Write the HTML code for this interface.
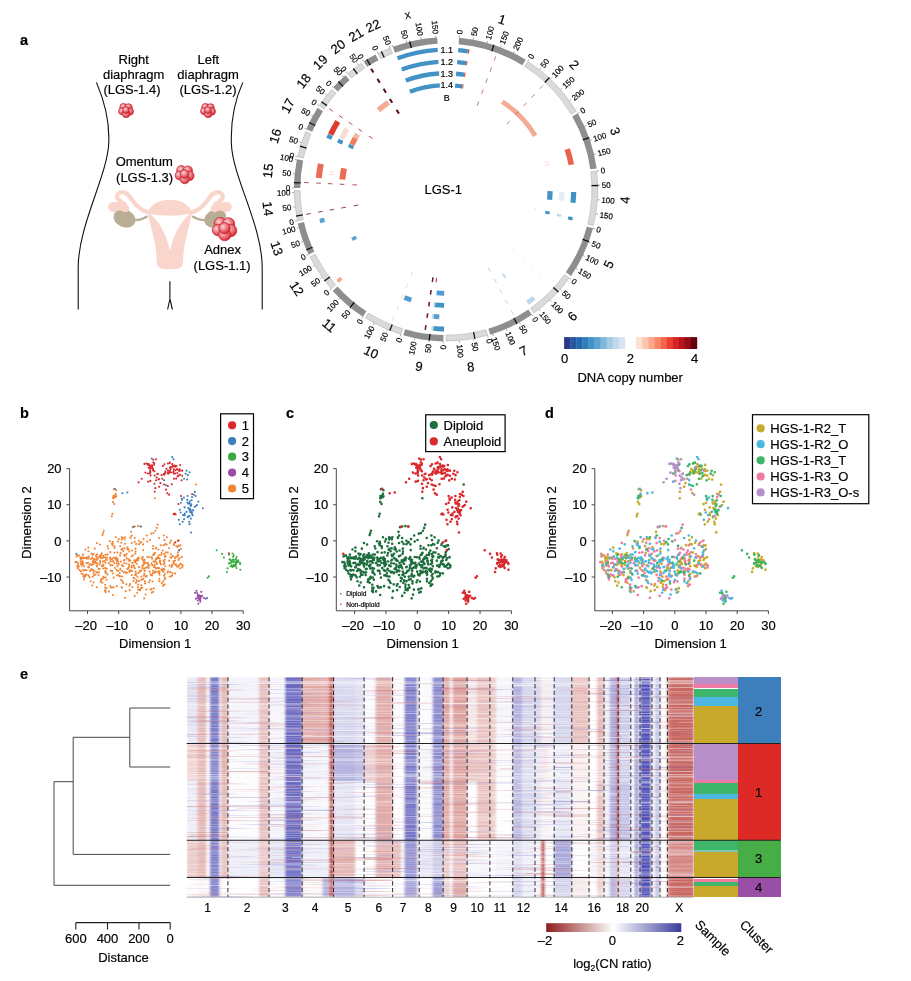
<!DOCTYPE html>
<html><head><meta charset="utf-8"><title>Figure</title>
<style>
html,body{margin:0;padding:0;background:#fff}
svg{display:block}
text{font-family:"Liberation Sans",sans-serif;fill:#000;stroke:#000;stroke-width:0.18px}
</style></head><body>
<svg width="911" height="981" viewBox="0 0 911 981">
<rect width="911" height="981" fill="#fff"/>
<text x="20" y="45" font-size="14.5" font-weight="bold" fill="#000" stroke="none">a</text>
<text x="20" y="418" font-size="14.5" font-weight="bold" fill="#000" stroke="none">b</text>
<text x="286" y="418" font-size="14.5" font-weight="bold" fill="#000" stroke="none">c</text>
<text x="545" y="418" font-size="14.5" font-weight="bold" fill="#000" stroke="none">d</text>
<text x="20" y="679" font-size="14.5" font-weight="bold" fill="#000" stroke="none">e</text>
<defs><radialGradient id="tg" cx="0.38" cy="0.36" r="0.62"><stop offset="0" stop-color="#fbd6d6"/><stop offset="0.5" stop-color="#ee7f87"/><stop offset="1" stop-color="#d62f3a"/></radialGradient></defs>
<text x="133.7" y="63.7" font-size="13" text-anchor="middle">Right</text>
<text x="133.7" y="78.6" font-size="13" text-anchor="middle">diaphragm</text>
<text x="132" y="94.4" font-size="13" text-anchor="middle">(LGS-1.4)</text>
<text x="208.3" y="63.7" font-size="13" text-anchor="middle">Left</text>
<text x="208" y="78.6" font-size="13" text-anchor="middle">diaphragm</text>
<text x="208" y="94.4" font-size="13" text-anchor="middle">(LGS-1.2)</text>
<text x="144.2" y="166.2" font-size="13" text-anchor="middle">Omentum</text>
<text x="144.6" y="181.6" font-size="13" text-anchor="middle">(LGS-1.3)</text>
<text x="222.6" y="253.9" font-size="13" text-anchor="middle">Adnex</text>
<text x="222.1" y="269.5" font-size="13" text-anchor="middle">(LGS-1.1)</text>
<path d="M96.4 82.4 C104 100 109.5 122 108.8 142 C108 175 78 225 78.2 268 L78.2 309.5" fill="none" stroke="#111" stroke-width="1.1"/>
<path d="M242.8 82.4 C235 100 230.5 122 231.4 144 C232.5 177 262.3 225 262.2 268 L262.2 309.5" fill="none" stroke="#111" stroke-width="1.1"/>
<path d="M169.9 281.3 L169.9 299 L167.6 309.5 M169.9 299 L172.4 309.5" fill="none" stroke="#111" stroke-width="1.1"/>
<g><ellipse cx="124.5" cy="218.4" rx="11.3" ry="8.8" transform="rotate(22 124.5 218.4)" fill="#b9ad94"/><path d="M132 219.8 Q140 221 147.5 216.2" fill="none" stroke="#b9ad94" stroke-width="2.2"/><path d="M149.5 212.6 C140 211 134.5 203.5 129.5 196.5 C126.5 192 120.5 190.8 117.8 194.2 C116 196.8 117.2 199.8 120.5 200.8" fill="none" stroke="#f9d5cc" stroke-width="4.2" stroke-linecap="round"/><ellipse cx="113.6" cy="207" rx="5.6" ry="4.9" fill="#f9d5cc"/><ellipse cx="121" cy="205.6" rx="6.2" ry="5.2" fill="#f9d5cc"/><ellipse cx="125.2" cy="208.6" rx="4" ry="3.6" fill="#f9d5cc"/></g>
<g transform="translate(339.8 0) scale(-1 1)"><ellipse cx="124.5" cy="218.4" rx="11.3" ry="8.8" transform="rotate(22 124.5 218.4)" fill="#b9ad94"/><path d="M132 219.8 Q140 221 147.5 216.2" fill="none" stroke="#b9ad94" stroke-width="2.2"/><path d="M149.5 212.6 C140 211 134.5 203.5 129.5 196.5 C126.5 192 120.5 190.8 117.8 194.2 C116 196.8 117.2 199.8 120.5 200.8" fill="none" stroke="#f9d5cc" stroke-width="4.2" stroke-linecap="round"/><ellipse cx="113.6" cy="207" rx="5.6" ry="4.9" fill="#f9d5cc"/><ellipse cx="121" cy="205.6" rx="6.2" ry="5.2" fill="#f9d5cc"/><ellipse cx="125.2" cy="208.6" rx="4" ry="3.6" fill="#f9d5cc"/></g>
<path d="M147.8 212.3 C151 203.5 160 199.7 169.9 199.7 C179.8 199.7 188.8 203.5 192 212.3 C190 224 185.5 238 183.8 250 C183.2 256 183.2 262 182.6 264.5 C182 268 178 269.2 169.9 269.2 C161.8 269.2 157.8 268 157.2 264.5 C156.6 262 156.6 256 156 250 C154.3 238 149.8 224 147.8 212.3Z" fill="#f9d5cc"/>
<path d="M150 214 Q169.9 217.4 189.8 214 C180 222 173 236 170 251.2 C167 236 160 222 150 214Z" fill="#fff"/>
<g><circle cx="123.38" cy="106.99" r="3.59" fill="url(#tg)" stroke="#c21f2b" stroke-width="0.7"/><circle cx="128.48" cy="107.4" r="3.73" fill="url(#tg)" stroke="#c21f2b" stroke-width="0.7"/><circle cx="122" cy="111.13" r="3.45" fill="url(#tg)" stroke="#c21f2b" stroke-width="0.7"/><circle cx="129.73" cy="111.4" r="3.73" fill="url(#tg)" stroke="#c21f2b" stroke-width="0.7"/><circle cx="126.14" cy="113.89" r="3.73" fill="url(#tg)" stroke="#c21f2b" stroke-width="0.7"/><circle cx="126" cy="110.02" r="3.45" fill="url(#tg)" stroke="#c21f2b" stroke-width="0.7"/></g>
<g><circle cx="205.38" cy="106.99" r="3.59" fill="url(#tg)" stroke="#c21f2b" stroke-width="0.7"/><circle cx="210.48" cy="107.4" r="3.73" fill="url(#tg)" stroke="#c21f2b" stroke-width="0.7"/><circle cx="204" cy="111.13" r="3.45" fill="url(#tg)" stroke="#c21f2b" stroke-width="0.7"/><circle cx="211.73" cy="111.4" r="3.73" fill="url(#tg)" stroke="#c21f2b" stroke-width="0.7"/><circle cx="208.14" cy="113.89" r="3.73" fill="url(#tg)" stroke="#c21f2b" stroke-width="0.7"/><circle cx="208" cy="110.02" r="3.45" fill="url(#tg)" stroke="#c21f2b" stroke-width="0.7"/></g>
<g><circle cx="181.26" cy="170.18" r="4.58" fill="url(#tg)" stroke="#c21f2b" stroke-width="0.7"/><circle cx="187.77" cy="170.7" r="4.75" fill="url(#tg)" stroke="#c21f2b" stroke-width="0.7"/><circle cx="179.5" cy="175.46" r="4.4" fill="url(#tg)" stroke="#c21f2b" stroke-width="0.7"/><circle cx="189.35" cy="175.81" r="4.75" fill="url(#tg)" stroke="#c21f2b" stroke-width="0.7"/><circle cx="184.78" cy="178.98" r="4.75" fill="url(#tg)" stroke="#c21f2b" stroke-width="0.7"/><circle cx="184.6" cy="174.05" r="4.4" fill="url(#tg)" stroke="#c21f2b" stroke-width="0.7"/></g>
<g><circle cx="220.17" cy="223.23" r="5.93" fill="url(#tg)" stroke="#c21f2b" stroke-width="0.7"/><circle cx="228.6" cy="223.91" r="6.16" fill="url(#tg)" stroke="#c21f2b" stroke-width="0.7"/><circle cx="217.89" cy="230.07" r="5.7" fill="url(#tg)" stroke="#c21f2b" stroke-width="0.7"/><circle cx="230.66" cy="230.52" r="6.16" fill="url(#tg)" stroke="#c21f2b" stroke-width="0.7"/><circle cx="224.73" cy="234.63" r="6.16" fill="url(#tg)" stroke="#c21f2b" stroke-width="0.7"/><circle cx="224.5" cy="228.24" r="5.7" fill="url(#tg)" stroke="#c21f2b" stroke-width="0.7"/></g>
<g><path d="M459.12 37.77 A152.1 152.1 0 0 1 525.7 59.75 L522.34 65.2 A145.7 145.7 0 0 0 458.57 44.14Z" fill="#8e8e8e"/>
<line x1="491.75" y1="51.18" x2="493.89" y2="44.73" stroke="#111" stroke-width="1.3"/>
<line x1="459.12" y1="37.77" x2="459.3" y2="35.77" stroke="#555" stroke-width="0.5"/><text transform="translate(459.43 34.18) rotate(-85.05)" font-size="8" text-anchor="start" dy="2.8">0</text>
<line x1="473.2" y1="39.65" x2="473.56" y2="37.68" stroke="#555" stroke-width="0.5"/><text transform="translate(473.84 36.11) rotate(-79.7)" font-size="8" text-anchor="start" dy="2.8">50</text>
<line x1="487.04" y1="42.84" x2="487.58" y2="40.91" stroke="#555" stroke-width="0.5"/><text transform="translate(488.01 39.37) rotate(-74.35)" font-size="8" text-anchor="start" dy="2.8">100</text>
<line x1="500.52" y1="47.31" x2="501.24" y2="45.44" stroke="#555" stroke-width="0.5"/><text transform="translate(501.81 43.95) rotate(-69)" font-size="8" text-anchor="start" dy="2.8">150</text>
<line x1="513.52" y1="53.01" x2="514.41" y2="51.22" stroke="#555" stroke-width="0.5"/><text transform="translate(515.12 49.78) rotate(-63.64)" font-size="8" text-anchor="start" dy="2.8">200</text>
<text transform="translate(502.13 19.33) rotate(18.28)" font-size="13" text-anchor="middle" dy="4.68">1</text>
<path d="M527.79 61.42 A151.8 151.8 0 0 1 576.19 111.23 L571.21 114.21 A146 146 0 0 0 524.66 66.3Z" fill="#dadada" stroke="#b4b4b4" stroke-width="0.6"/>
<line x1="544.78" y1="82.47" x2="549.39" y2="77.47" stroke="#111" stroke-width="1.3"/>
<line x1="527.95" y1="61.16" x2="529.02" y2="59.48" stroke="#555" stroke-width="0.5"/><text transform="translate(529.89 58.13) rotate(-57.4)" font-size="8" text-anchor="start" dy="2.8">0</text>
<line x1="539.73" y1="69.51" x2="540.96" y2="67.94" stroke="#555" stroke-width="0.5"/><text transform="translate(541.95 66.68) rotate(-51.96)" font-size="8" text-anchor="start" dy="2.8">50</text>
<line x1="550.67" y1="78.94" x2="552.05" y2="77.49" stroke="#555" stroke-width="0.5"/><text transform="translate(553.15 76.33) rotate(-46.52)" font-size="8" text-anchor="start" dy="2.8">100</text>
<line x1="560.66" y1="89.37" x2="562.17" y2="88.05" stroke="#555" stroke-width="0.5"/><text transform="translate(563.38 87) rotate(-41.07)" font-size="8" text-anchor="start" dy="2.8">150</text>
<line x1="569.63" y1="100.69" x2="571.25" y2="99.53" stroke="#555" stroke-width="0.5"/><text transform="translate(572.55 98.6) rotate(-35.63)" font-size="8" text-anchor="start" dy="2.8">200</text>
<text transform="translate(574.38 64.56) rotate(45.83)" font-size="13" text-anchor="middle" dy="4.68">2</text>
<path d="M577.79 113.36 A152.1 152.1 0 0 1 596.66 168.39 L590.32 169.27 A145.7 145.7 0 0 0 572.24 116.56Z" fill="#8e8e8e"/>
<line x1="582.88" y1="139.98" x2="589.28" y2="137.67" stroke="#111" stroke-width="1.3"/>
<line x1="577.79" y1="113.36" x2="579.52" y2="112.37" stroke="#555" stroke-width="0.5"/><text transform="translate(580.91 111.57) rotate(-29.95)" font-size="8" text-anchor="start" dy="2.8">0</text>
<line x1="584.53" y1="126.51" x2="586.36" y2="125.69" stroke="#555" stroke-width="0.5"/><text transform="translate(587.81 125.02) rotate(-24.38)" font-size="8" text-anchor="start" dy="2.8">50</text>
<line x1="589.97" y1="140.25" x2="591.87" y2="139.6" stroke="#555" stroke-width="0.5"/><text transform="translate(593.38 139.09) rotate(-18.81)" font-size="8" text-anchor="start" dy="2.8">100</text>
<line x1="594.05" y1="154.45" x2="596" y2="153.99" stroke="#555" stroke-width="0.5"/><text transform="translate(597.56 153.63) rotate(-13.25)" font-size="8" text-anchor="start" dy="2.8">150</text>
<text transform="translate(615.32 131.24) rotate(71.07)" font-size="13" text-anchor="middle" dy="4.68">3</text>
<path d="M596.7 171.06 A151.8 151.8 0 0 1 593.42 225.51 L587.79 224.13 A146 146 0 0 0 590.94 171.76Z" fill="#dadada" stroke="#b4b4b4" stroke-width="0.6"/>
<line x1="591.45" y1="185.65" x2="598.25" y2="185.48" stroke="#111" stroke-width="1.3"/>
<line x1="597" y1="171.03" x2="598.98" y2="170.79" stroke="#555" stroke-width="0.5"/><text transform="translate(600.57 170.59) rotate(-6.9)" font-size="8" text-anchor="start" dy="2.8">0</text>
<line x1="598.05" y1="185.37" x2="600.05" y2="185.32" stroke="#555" stroke-width="0.5"/><text transform="translate(601.65 185.28) rotate(-1.48)" font-size="8" text-anchor="start" dy="2.8">50</text>
<line x1="597.74" y1="199.74" x2="599.74" y2="199.88" stroke="#555" stroke-width="0.5"/><text transform="translate(601.33 199.99) rotate(3.94)" font-size="8" text-anchor="start" dy="2.8">100</text>
<line x1="596.08" y1="214.03" x2="598.05" y2="214.35" stroke="#555" stroke-width="0.5"/><text transform="translate(599.63 214.61) rotate(9.36)" font-size="8" text-anchor="start" dy="2.8">150</text>
<text transform="translate(624.68 200.07) rotate(-86.55)" font-size="13" text-anchor="middle" dy="4.68">4</text>
<path d="M593.05 228.15 A152.1 152.1 0 0 1 571.05 275.89 L565.79 272.24 A145.7 145.7 0 0 0 586.87 226.52Z" fill="#8e8e8e"/>
<line x1="582.62" y1="239.35" x2="589" y2="241.69" stroke="#111" stroke-width="1.3"/>
<line x1="593.05" y1="228.15" x2="594.99" y2="228.66" stroke="#555" stroke-width="0.5"/><text transform="translate(596.53 229.07) rotate(14.8)" font-size="8" text-anchor="start" dy="2.8">0</text>
<line x1="588.66" y1="242.06" x2="590.53" y2="242.76" stroke="#555" stroke-width="0.5"/><text transform="translate(592.03 243.31) rotate(20.3)" font-size="8" text-anchor="start" dy="2.8">50</text>
<line x1="582.94" y1="255.49" x2="584.75" y2="256.36" stroke="#555" stroke-width="0.5"/><text transform="translate(586.19 257.05) rotate(25.79)" font-size="8" text-anchor="start" dy="2.8">100</text>
<line x1="575.97" y1="268.3" x2="577.68" y2="269.34" stroke="#555" stroke-width="0.5"/><text transform="translate(579.05 270.17) rotate(31.29)" font-size="8" text-anchor="start" dy="2.8">150</text>
<text transform="translate(608.56 264.24) rotate(-65.25)" font-size="13" text-anchor="middle" dy="4.68">5</text>
<path d="M569.27 277.88 A151.8 151.8 0 0 1 533.93 313.04 L530.58 308.31 A146 146 0 0 0 564.56 274.5Z" fill="#dadada" stroke="#b4b4b4" stroke-width="0.6"/>
<line x1="553.37" y1="287.49" x2="558.39" y2="292.08" stroke="#111" stroke-width="1.3"/>
<line x1="569.52" y1="278.06" x2="571.14" y2="279.22" stroke="#555" stroke-width="0.5"/><text transform="translate(572.44 280.16) rotate(35.7)" font-size="8" text-anchor="start" dy="2.8">0</text>
<line x1="560.4" y1="289.54" x2="561.9" y2="290.86" stroke="#555" stroke-width="0.5"/><text transform="translate(563.1 291.91) rotate(41.23)" font-size="8" text-anchor="start" dy="2.8">50</text>
<line x1="550.21" y1="300.09" x2="551.58" y2="301.55" stroke="#555" stroke-width="0.5"/><text transform="translate(552.68 302.71) rotate(46.75)" font-size="8" text-anchor="start" dy="2.8">100</text>
<line x1="539.06" y1="309.61" x2="540.28" y2="311.19" stroke="#555" stroke-width="0.5"/><text transform="translate(541.26 312.46) rotate(52.28)" font-size="8" text-anchor="start" dy="2.8">150</text>
<text transform="translate(572.24 316.2) rotate(-44.85)" font-size="13" text-anchor="middle" dy="4.68">6</text>
<path d="M531.93 314.8 A152.1 152.1 0 0 1 490.22 334.83 L488.36 328.71 A145.7 145.7 0 0 0 528.32 309.52Z" fill="#8e8e8e"/>
<line x1="513.88" y1="318" x2="517.05" y2="324.01" stroke="#111" stroke-width="1.3"/>
<line x1="531.93" y1="314.8" x2="533.06" y2="316.45" stroke="#555" stroke-width="0.5"/><text transform="translate(533.97 317.77) rotate(55.6)" font-size="8" text-anchor="start" dy="2.8">0</text>
<line x1="519.5" y1="322.46" x2="520.47" y2="324.21" stroke="#555" stroke-width="0.5"/><text transform="translate(521.24 325.61) rotate(61.1)" font-size="8" text-anchor="start" dy="2.8">50</text>
<line x1="506.39" y1="328.9" x2="507.18" y2="330.73" stroke="#555" stroke-width="0.5"/><text transform="translate(507.82 332.2) rotate(66.61)" font-size="8" text-anchor="start" dy="2.8">100</text>
<line x1="492.73" y1="334.05" x2="493.34" y2="335.95" stroke="#555" stroke-width="0.5"/><text transform="translate(493.83 337.47) rotate(72.11)" font-size="8" text-anchor="start" dy="2.8">150</text>
<text transform="translate(523.48 350.66) rotate(-25.65)" font-size="13" text-anchor="middle" dy="4.68">7</text>
<path d="M487.59 335.29 A151.8 151.8 0 0 1 446 341.1 L446 335.3 A146 146 0 0 0 486 329.71Z" fill="#dadada" stroke="#b4b4b4" stroke-width="0.6"/>
<line x1="473.6" y1="332.16" x2="474.89" y2="338.84" stroke="#111" stroke-width="1.3"/>
<line x1="487.67" y1="335.58" x2="488.22" y2="337.5" stroke="#555" stroke-width="0.5"/><text transform="translate(488.66 339.04) rotate(74.1)" font-size="8" text-anchor="start" dy="2.8">0</text>
<line x1="473.6" y1="338.87" x2="473.96" y2="340.84" stroke="#555" stroke-width="0.5"/><text transform="translate(474.25 342.42) rotate(79.55)" font-size="8" text-anchor="start" dy="2.8">50</text>
<line x1="459.28" y1="340.82" x2="459.46" y2="342.81" stroke="#555" stroke-width="0.5"/><text transform="translate(459.6 344.41) rotate(84.99)" font-size="8" text-anchor="start" dy="2.8">100</text>
<text transform="translate(470.76 366.58) rotate(-7.95)" font-size="13" text-anchor="middle" dy="4.68">8</text>
<path d="M443.35 341.38 A152.1 152.1 0 0 1 403.31 335.29 L405.11 329.14 A145.7 145.7 0 0 0 443.46 334.98Z" fill="#8e8e8e"/>
<line x1="429.99" y1="333.92" x2="429.24" y2="340.68" stroke="#111" stroke-width="1.3"/>
<line x1="443.35" y1="341.38" x2="443.31" y2="343.38" stroke="#555" stroke-width="0.5"/><text transform="translate(443.28 344.98) rotate(-89)" font-size="8" text-anchor="end" dy="2.8">0</text>
<line x1="428.98" y1="340.44" x2="428.75" y2="342.43" stroke="#555" stroke-width="0.5"/><text transform="translate(428.58 344.02) rotate(-83.57)" font-size="8" text-anchor="end" dy="2.8">50</text>
<line x1="414.76" y1="338.16" x2="414.35" y2="340.12" stroke="#555" stroke-width="0.5"/><text transform="translate(414.02 341.68) rotate(-78.15)" font-size="8" text-anchor="end" dy="2.8">100</text>
<text transform="translate(419.08 366.26) rotate(8.65)" font-size="13" text-anchor="middle" dy="4.68">9</text>
<path d="M400.86 334.23 A151.8 151.8 0 0 1 365.33 317.89 L368.42 312.98 A146 146 0 0 0 402.58 328.7Z" fill="#dadada" stroke="#b4b4b4" stroke-width="0.6"/>
<line x1="392.22" y1="324.5" x2="389.71" y2="330.82" stroke="#111" stroke-width="1.3"/>
<line x1="400.77" y1="334.52" x2="400.17" y2="336.43" stroke="#555" stroke-width="0.5"/><text transform="translate(399.7 337.96) rotate(-72.7)" font-size="8" text-anchor="end" dy="2.8">0</text>
<line x1="387.15" y1="329.56" x2="386.38" y2="331.4" stroke="#555" stroke-width="0.5"/><text transform="translate(385.76 332.87) rotate(-67.24)" font-size="8" text-anchor="end" dy="2.8">50</text>
<line x1="374.07" y1="323.32" x2="373.13" y2="325.08" stroke="#555" stroke-width="0.5"/><text transform="translate(372.37 326.49) rotate(-61.78)" font-size="8" text-anchor="end" dy="2.8">100</text>
<text transform="translate(371.2 351.92) rotate(24.7)" font-size="13" text-anchor="middle" dy="4.68">10</text>
<path d="M362.94 316.72 A152.1 152.1 0 0 1 332.79 290.88 L337.55 286.6 A145.7 145.7 0 0 0 366.43 311.36Z" fill="#8e8e8e"/>
<line x1="354.3" y1="302.27" x2="350.02" y2="307.55" stroke="#111" stroke-width="1.3"/>
<line x1="362.94" y1="316.72" x2="361.85" y2="318.39" stroke="#555" stroke-width="0.5"/><text transform="translate(360.97 319.73) rotate(-56.9)" font-size="8" text-anchor="end" dy="2.8">0</text>
<line x1="350.99" y1="308.08" x2="349.74" y2="309.64" stroke="#555" stroke-width="0.5"/><text transform="translate(348.74 310.89) rotate(-51.34)" font-size="8" text-anchor="end" dy="2.8">50</text>
<line x1="339.94" y1="298.32" x2="338.55" y2="299.76" stroke="#555" stroke-width="0.5"/><text transform="translate(337.43 300.9) rotate(-45.79)" font-size="8" text-anchor="end" dy="2.8">100</text>
<text transform="translate(329.51 325.21) rotate(40.6)" font-size="13" text-anchor="middle" dy="4.68">11</text>
<path d="M331.26 288.69 A151.8 151.8 0 0 1 310.03 256.8 L315.23 254.22 A146 146 0 0 0 335.65 284.89Z" fill="#dadada" stroke="#b4b4b4" stroke-width="0.6"/>
<line x1="329.84" y1="276.92" x2="324.41" y2="281.01" stroke="#111" stroke-width="1.3"/>
<line x1="331.03" y1="288.89" x2="329.52" y2="290.2" stroke="#555" stroke-width="0.5"/><text transform="translate(328.31 291.24) rotate(-40.9)" font-size="8" text-anchor="end" dy="2.8">0</text>
<line x1="322.16" y1="277.6" x2="320.53" y2="278.76" stroke="#555" stroke-width="0.5"/><text transform="translate(319.23 279.69) rotate(-35.49)" font-size="8" text-anchor="end" dy="2.8">50</text>
<line x1="314.38" y1="265.53" x2="312.65" y2="266.53" stroke="#555" stroke-width="0.5"/><text transform="translate(311.27 267.34) rotate(-30.08)" font-size="8" text-anchor="end" dy="2.8">100</text>
<text transform="translate(296.99 288.49) rotate(56.35)" font-size="13" text-anchor="middle" dy="4.68">12</text>
<path d="M308.6 254.54 A152.1 152.1 0 0 1 297.8 223.52 L304.03 222.08 A145.7 145.7 0 0 0 314.38 251.8Z" fill="#8e8e8e"/>
<line x1="312.54" y1="247.25" x2="306.3" y2="249.96" stroke="#111" stroke-width="1.3"/>
<line x1="308.6" y1="254.54" x2="306.8" y2="255.4" stroke="#555" stroke-width="0.5"/><text transform="translate(305.35 256.09) rotate(-25.4)" font-size="8" text-anchor="end" dy="2.8">0</text>
<line x1="303.08" y1="241.34" x2="301.2" y2="242.03" stroke="#555" stroke-width="0.5"/><text transform="translate(299.7 242.57) rotate(-20.01)" font-size="8" text-anchor="end" dy="2.8">50</text>
<line x1="298.82" y1="227.68" x2="296.89" y2="228.19" stroke="#555" stroke-width="0.5"/><text transform="translate(295.34 228.59) rotate(-14.62)" font-size="8" text-anchor="end" dy="2.8">100</text>
<text transform="translate(276.96 248.17) rotate(70.8)" font-size="13" text-anchor="middle" dy="4.68">13</text>
<path d="M297.52 220.86 A151.8 151.8 0 0 1 294.21 190.62 L300.01 190.57 A146 146 0 0 0 303.19 219.66Z" fill="#dadada" stroke="#b4b4b4" stroke-width="0.6"/>
<line x1="302.76" y1="214.84" x2="296.06" y2="216.03" stroke="#111" stroke-width="1.3"/>
<line x1="297.22" y1="220.92" x2="295.27" y2="221.34" stroke="#555" stroke-width="0.5"/><text transform="translate(293.7 221.67) rotate(-12)" font-size="8" text-anchor="end" dy="2.8">0</text>
<line x1="294.92" y1="206.85" x2="292.93" y2="207.08" stroke="#555" stroke-width="0.5"/><text transform="translate(291.34 207.27) rotate(-6.63)" font-size="8" text-anchor="end" dy="2.8">50</text>
<line x1="293.94" y1="192.62" x2="291.94" y2="192.67" stroke="#555" stroke-width="0.5"/><text transform="translate(290.34 192.7) rotate(-1.25)" font-size="8" text-anchor="end" dy="2.8">100</text>
<text transform="translate(268.06 208.79) rotate(83.75)" font-size="13" text-anchor="middle" dy="4.68">14</text>
<path d="M293.91 187.97 A152.1 152.1 0 0 1 296.9 159.24 L303.17 160.5 A145.7 145.7 0 0 0 300.31 188.03Z" fill="#8e8e8e"/>
<line x1="300.64" y1="182.9" x2="293.85" y2="182.6" stroke="#111" stroke-width="1.3"/>
<line x1="293.91" y1="187.97" x2="291.91" y2="187.96" stroke="#555" stroke-width="0.5"/><text transform="translate(290.31 187.94) rotate(0.5)" font-size="8" text-anchor="end" dy="2.8">0</text>
<line x1="294.68" y1="173.88" x2="292.69" y2="173.68" stroke="#555" stroke-width="0.5"/><text transform="translate(291.1 173.52) rotate(5.82)" font-size="8" text-anchor="end" dy="2.8">50</text>
<line x1="296.76" y1="159.93" x2="294.8" y2="159.54" stroke="#555" stroke-width="0.5"/><text transform="translate(293.23 159.23) rotate(11.13)" font-size="8" text-anchor="end" dy="2.8">100</text>
<text transform="translate(267.96 170.74) rotate(275.95)" font-size="13" text-anchor="middle" dy="4.68">15</text>
<path d="M297.74 156.7 A151.8 151.8 0 0 1 305.55 131.7 L310.92 133.9 A146 146 0 0 0 303.41 157.95Z" fill="#dadada" stroke="#b4b4b4" stroke-width="0.6"/>
<line x1="306.44" y1="148.16" x2="299.92" y2="146.23" stroke="#111" stroke-width="1.3"/>
<line x1="297.45" y1="156.64" x2="295.49" y2="156.21" stroke="#555" stroke-width="0.5"/><text transform="translate(293.93 155.87) rotate(12.4)" font-size="8" text-anchor="end" dy="2.8">0</text>
<line x1="301.26" y1="142.55" x2="299.36" y2="141.94" stroke="#555" stroke-width="0.5"/><text transform="translate(297.84 141.44) rotate(17.9)" font-size="8" text-anchor="end" dy="2.8">50</text>
<text transform="translate(275.14 135.92) rotate(287.35)" font-size="13" text-anchor="middle" dy="4.68">16</text>
<path d="M306.3 129.14 A152.1 152.1 0 0 1 317.58 107.8 L322.98 111.23 A145.7 145.7 0 0 0 312.18 131.67Z" fill="#8e8e8e"/>
<line x1="315.22" y1="125.53" x2="309.11" y2="122.54" stroke="#111" stroke-width="1.3"/>
<line x1="306.3" y1="129.14" x2="304.47" y2="128.35" stroke="#555" stroke-width="0.5"/><text transform="translate(303 127.71) rotate(23.3)" font-size="8" text-anchor="end" dy="2.8">0</text>
<line x1="312.86" y1="115.75" x2="311.11" y2="114.79" stroke="#555" stroke-width="0.5"/><text transform="translate(309.71 114.01) rotate(28.92)" font-size="8" text-anchor="end" dy="2.8">50</text>
<text transform="translate(287.73 105.68) rotate(297.85)" font-size="13" text-anchor="middle" dy="4.68">17</text>
<path d="M319.27 105.74 A151.8 151.8 0 0 1 331.61 89.51 L335.98 93.32 A146 146 0 0 0 324.11 108.93Z" fill="#dadada" stroke="#b4b4b4" stroke-width="0.6"/>
<line x1="326.96" y1="105.64" x2="321.39" y2="101.73" stroke="#111" stroke-width="1.3"/>
<line x1="319.02" y1="105.57" x2="317.35" y2="104.47" stroke="#555" stroke-width="0.5"/><text transform="translate(316.01 103.59) rotate(33.4)" font-size="8" text-anchor="end" dy="2.8">0</text>
<line x1="326.69" y1="94.96" x2="325.13" y2="93.72" stroke="#555" stroke-width="0.5"/><text transform="translate(323.87 92.72) rotate(38.34)" font-size="8" text-anchor="end" dy="2.8">50</text>
<text transform="translate(303.52 80.95) rotate(307.25)" font-size="13" text-anchor="middle" dy="4.68">18</text>
<path d="M333.15 87.33 A152.1 152.1 0 0 1 345.41 75.21 L349.65 80.01 A145.7 145.7 0 0 0 337.89 91.62Z" fill="#8e8e8e"/>
<line x1="343.15" y1="86.38" x2="338.34" y2="81.57" stroke="#111" stroke-width="1.3"/>
<line x1="333.15" y1="87.33" x2="331.66" y2="85.99" stroke="#555" stroke-width="0.5"/><text transform="translate(330.47 84.91) rotate(42.1)" font-size="8" text-anchor="end" dy="2.8">0</text>
<line x1="343.46" y1="76.97" x2="342.11" y2="75.49" stroke="#555" stroke-width="0.5"/><text transform="translate(341.03 74.31) rotate(47.61)" font-size="8" text-anchor="end" dy="2.8">50</text>
<text transform="translate(320.2 61.96) rotate(315.35)" font-size="13" text-anchor="middle" dy="4.68">19</text>
<path d="M347.62 73.7 A151.8 151.8 0 0 1 361.55 63.16 L364.78 67.98 A146 146 0 0 0 351.37 78.12Z" fill="#dadada" stroke="#b4b4b4" stroke-width="0.6"/>
<line x1="357.39" y1="73.9" x2="353.25" y2="68.5" stroke="#111" stroke-width="1.3"/>
<line x1="347.42" y1="73.47" x2="346.12" y2="71.95" stroke="#555" stroke-width="0.5"/><text transform="translate(345.09 70.73) rotate(49.6)" font-size="8" text-anchor="end" dy="2.8">0</text>
<line x1="358.41" y1="64.95" x2="357.26" y2="63.32" stroke="#555" stroke-width="0.5"/><text transform="translate(356.33 62.01) rotate(54.84)" font-size="8" text-anchor="end" dy="2.8">50</text>
<text transform="translate(338.03 46.53) rotate(322.9)" font-size="13" text-anchor="middle" dy="4.68">20</text>
<path d="M363.61 61.45 A152.1 152.1 0 0 1 375.53 54.51 L378.5 60.18 A145.7 145.7 0 0 0 367.07 66.83Z" fill="#8e8e8e"/>
<line x1="370.26" y1="65.07" x2="366.72" y2="59.26" stroke="#111" stroke-width="1.3"/>
<line x1="363.61" y1="61.45" x2="362.52" y2="59.77" stroke="#555" stroke-width="0.5"/><text transform="translate(361.66 58.42) rotate(57.2)" font-size="8" text-anchor="end" dy="2.8">0</text>
<text transform="translate(355.96 34.59) rotate(329.8)" font-size="13" text-anchor="middle" dy="4.68">21</text>
<path d="M378.03 53.57 A151.8 151.8 0 0 1 390.37 48.06 L392.49 53.46 A146 146 0 0 0 380.63 58.75Z" fill="#dadada" stroke="#b4b4b4" stroke-width="0.6"/>
<line x1="384.21" y1="57.57" x2="381.32" y2="51.42" stroke="#111" stroke-width="1.3"/>
<line x1="377.9" y1="53.3" x2="377" y2="51.51" stroke="#555" stroke-width="0.5"/><text transform="translate(376.28 50.08) rotate(63.4)" font-size="8" text-anchor="end" dy="2.8">0</text>
<line x1="390.01" y1="47.88" x2="389.27" y2="46.02" stroke="#555" stroke-width="0.5"/><text transform="translate(388.68 44.53) rotate(68.4)" font-size="8" text-anchor="end" dy="2.8">50</text>
<text transform="translate(373.05 25.84) rotate(335.95)" font-size="13" text-anchor="middle" dy="4.68">22</text>
<path d="M392.73 46.83 A152.1 152.1 0 0 1 437.24 37.45 L437.61 43.84 A145.7 145.7 0 0 0 394.97 52.83Z" fill="#8e8e8e"/>
<line x1="411.35" y1="47.99" x2="409.73" y2="41.38" stroke="#111" stroke-width="1.3"/>
<line x1="392.73" y1="46.83" x2="392.03" y2="44.96" stroke="#555" stroke-width="0.5"/><line x1="406.76" y1="42.35" x2="406.24" y2="40.42" stroke="#555" stroke-width="0.5"/><text transform="translate(405.83 38.87) rotate(75.05)" font-size="8" text-anchor="end" dy="2.8">50</text>
<line x1="421.15" y1="39.24" x2="420.82" y2="37.27" stroke="#555" stroke-width="0.5"/><text transform="translate(420.56 35.69) rotate(80.6)" font-size="8" text-anchor="end" dy="2.8">100</text>
<line x1="435.77" y1="37.54" x2="435.64" y2="35.55" stroke="#555" stroke-width="0.5"/><text transform="translate(435.53 33.95) rotate(86.15)" font-size="8" text-anchor="end" dy="2.8">150</text>
<text transform="translate(407.78 15.45) rotate(347.6)" font-size="9" text-anchor="middle" dy="3.24">X</text>
<path d="M396.79 56.26 A141.85 141.85 0 0 1 437.59 47.7 L437.84 51.99 A137.55 137.55 0 0 0 398.28 60.29Z" fill="#4292c6"/>
<path d="M458.36 47.99 A141.85 141.85 0 0 1 468.19 49.2 L467.52 53.44 A137.55 137.55 0 0 0 457.99 52.27Z" fill="#4292c6"/>
<path d="M468.19 49.2 A141.85 141.85 0 0 1 469.66 49.44 L468.94 53.68 A137.55 137.55 0 0 0 467.52 53.44Z" fill="#e05a4a"/>
<path d="M400.95 67.52 A129.85 129.85 0 0 1 438.3 59.68 L438.55 63.97 A125.55 125.55 0 0 0 402.44 71.55Z" fill="#4292c6"/>
<path d="M457.32 59.94 A129.85 129.85 0 0 1 466.31 61.05 L465.64 65.3 A125.55 125.55 0 0 0 456.94 64.23Z" fill="#4292c6"/>
<path d="M466.31 61.05 A129.85 129.85 0 0 1 467.65 61.27 L466.94 65.51 A125.55 125.55 0 0 0 465.64 65.3Z" fill="#e05a4a"/>
<path d="M405.01 78.49 A118.15 118.15 0 0 1 438.99 71.36 L439.25 75.65 A113.85 113.85 0 0 0 406.5 82.52Z" fill="#4292c6"/>
<path d="M456.3 71.6 A118.15 118.15 0 0 1 464.48 72.6 L463.81 76.85 A113.85 113.85 0 0 0 455.92 75.88Z" fill="#4292c6"/>
<path d="M464.48 72.6 A118.15 118.15 0 0 1 465.7 72.8 L464.99 77.04 A113.85 113.85 0 0 0 463.81 76.85Z" fill="#e05a4a"/>
<path d="M409.14 89.65 A106.25 106.25 0 0 1 439.7 83.24 L439.95 87.53 A101.95 101.95 0 0 0 410.63 93.68Z" fill="#4292c6"/>
<path d="M455.26 83.45 A106.25 106.25 0 0 1 462.62 84.36 L461.95 88.61 A101.95 101.95 0 0 0 454.89 87.74Z" fill="#4292c6"/>
<path d="M462.62 84.36 A106.25 106.25 0 0 1 463.72 84.54 L463 88.78 A101.95 101.95 0 0 0 461.95 88.61Z" fill="#e05a4a"/>
<path d="M503.54 99.68 A106.5 106.5 0 0 1 537.29 134.45 L533.17 136.92 A101.7 101.7 0 0 0 500.94 103.72Z" fill="#f4ab93"/>
<path d="M569.9 148.32 A130.5 130.5 0 0 1 574.06 164.18 L568.56 165.25 A124.9 124.9 0 0 0 564.58 150.08Z" fill="#e8634a"/>
<path d="M548.77 161.38 A106.5 106.5 0 0 1 548.97 162.1 L544.33 163.32 A101.7 101.7 0 0 0 544.14 162.64Z" fill="#f7cdd2"/>
<path d="M549.47 164.08 A106.5 106.5 0 0 1 549.64 164.8 L544.97 165.9 A101.7 101.7 0 0 0 544.81 165.21Z" fill="#f7cdd2"/>
<path d="M552.68 191.16 A106.7 106.7 0 0 1 552.15 200.08 L546.98 199.56 A101.5 101.5 0 0 0 547.48 191.07Z" fill="#4292c6"/>
<path d="M564.57 191.78 A118.6 118.6 0 0 1 564.03 200.87 L558.86 200.37 A113.4 113.4 0 0 0 559.38 191.67Z" fill="#e3ebf5"/>
<path d="M576.27 192.03 A130.3 130.3 0 0 1 575.59 202.92 L570.41 202.38 A125.1 125.1 0 0 0 571.07 191.92Z" fill="#4292c6"/>
<path d="M549.95 211.77 A106.35 106.35 0 0 1 549.32 214.49 L544.95 213.42 A101.85 101.85 0 0 0 545.55 210.82Z" fill="#4292c6"/>
<path d="M561.54 214.49 A118.25 118.25 0 0 1 560.93 217.11 L556.56 216.05 A113.75 113.75 0 0 0 557.14 213.53Z" fill="#c5d9ec"/>
<path d="M572.92 217.2 A129.95 129.95 0 0 1 572.14 220.52 L567.78 219.44 A125.45 125.45 0 0 0 568.52 216.24Z" fill="#4292c6"/>
<path d="M536.8 208.93 A92.9 92.9 0 0 1 536.37 210.83 L533.45 210.13 A89.9 89.9 0 0 0 533.87 208.3Z" fill="#f9e4e6"/>
<path d="M535.43 299.73 A142.1 142.1 0 0 1 528.92 304.7 L526.12 300.8 A137.3 137.3 0 0 0 532.41 296Z" fill="#bdd7ec"/>
<path d="M506.32 277.07 A106.5 106.5 0 0 1 504.47 278.31 L501.84 274.3 A101.7 101.7 0 0 0 503.6 273.11Z" fill="#c8dcef"/>
<path d="M444.02 331.39 A142.1 142.1 0 0 1 433.12 330.82 L433.56 326.03 A137.3 137.3 0 0 0 444.08 326.59Z" fill="#4292c6"/>
<path d="M433.12 330.82 A142.1 142.1 0 0 1 431.15 330.62 L431.65 325.85 A137.3 137.3 0 0 0 433.56 326.03Z" fill="#c5d9ec"/>
<path d="M439.19 319.22 A130.1 130.1 0 0 1 433.3 318.78 L433.77 314 A125.3 125.3 0 0 0 439.44 314.43Z" fill="#5a9fd0"/>
<path d="M433.3 318.78 A130.1 130.1 0 0 1 431.5 318.59 L432.03 313.82 A125.3 125.3 0 0 0 433.77 314Z" fill="#c5d9ec"/>
<path d="M444.14 307.69 A118.4 118.4 0 0 1 434.86 307.17 L435.31 302.4 A113.6 113.6 0 0 0 444.22 302.89Z" fill="#4292c6"/>
<path d="M434.86 307.17 A118.4 118.4 0 0 1 433.21 307.01 L433.73 302.24 A113.6 113.6 0 0 0 435.31 302.4Z" fill="#c5d9ec"/>
<path d="M444.14 295.78 A106.5 106.5 0 0 1 436.35 295.36 L436.78 290.58 A101.7 101.7 0 0 0 444.23 290.98Z" fill="#4f9ad0"/>
<path d="M410.59 302.28 A118.4 118.4 0 0 1 403.57 299.84 L405.29 295.35 A113.6 113.6 0 0 0 412.03 297.7Z" fill="#4f9ad0"/>
<path d="M338.92 282.71 A142.1 142.1 0 0 1 336.51 279.88 L340.21 276.82 A137.3 137.3 0 0 0 342.54 279.56Z" fill="#f4a58a"/>
<path d="M352.94 241.09 A106.5 106.5 0 0 1 351.19 237.82 L355.47 235.63 A101.7 101.7 0 0 0 357.14 238.76Z" fill="#5ba3d3"/>
<path d="M320.39 223.19 A130.1 130.1 0 0 1 319.29 218.79 L323.96 217.7 A125.3 125.3 0 0 0 325.03 221.94Z" fill="#5ba3d3"/>
<path d="M315.82 177.68 A130.7 130.7 0 0 1 317.92 163.24 L323.8 164.44 A124.7 124.7 0 0 0 321.79 178.21Z" fill="#ea6c55"/>
<path d="M339.38 179.22 A107.1 107.1 0 0 1 341.09 167.76 L346.96 168.97 A101.1 101.1 0 0 0 345.35 179.79Z" fill="#ea6c55"/>
<path d="M328.53 174.46 A118.4 118.4 0 0 1 328.64 173.64 L333.4 174.28 A113.6 113.6 0 0 0 333.3 175.06Z" fill="#f9d2c8"/>
<path d="M328.87 172 A118.4 118.4 0 0 1 328.99 171.19 L333.74 171.92 A113.6 113.6 0 0 0 333.62 172.7Z" fill="#f9d2c8"/>
<path d="M326.33 137.76 A130.3 130.3 0 0 1 328.1 133.82 L332.81 136.04 A125.1 125.1 0 0 0 331.1 139.82Z" fill="#4292c6"/>
<path d="M337.07 142.39 A118.6 118.6 0 0 1 338.69 138.8 L343.39 141.02 A113.4 113.4 0 0 0 341.85 144.45Z" fill="#4292c6"/>
<path d="M348 147.1 A106.7 106.7 0 0 1 349.45 143.87 L354.16 146.08 A101.5 101.5 0 0 0 352.78 149.15Z" fill="#4292c6"/>
<path d="M328.11 133.32 A130.5 130.5 0 0 1 335.45 119.95 L340.19 122.93 A124.9 124.9 0 0 0 333.17 135.73Z" fill="#de3b2f"/>
<path d="M339.22 137.68 A118.6 118.6 0 0 1 344.99 127.16 L349.41 129.88 A113.4 113.4 0 0 0 343.9 139.94Z" fill="#fbdcd3"/>
<path d="M349.52 143.49 A106.8 106.8 0 0 1 352.95 136.87 L357.66 139.52 A101.4 101.4 0 0 0 354.4 145.81Z" fill="#ee7a62"/>
<path d="M352.95 136.87 A106.8 106.8 0 0 1 355.33 132.86 L359.91 135.72 A101.4 101.4 0 0 0 357.66 139.52Z" fill="#f6b6a0"/>
<path d="M376.64 108.09 A106.8 106.8 0 0 1 386.9 100.34 L389.89 104.84 A101.4 101.4 0 0 0 380.15 112.19Z" fill="#f4ab93"/>
<line x1="494.12" y1="60.6" x2="495.73" y2="56.29" stroke="#a8596a" stroke-width="0.8"/><line x1="489.92" y1="71.84" x2="491.53" y2="67.53" stroke="#a8596a" stroke-width="0.8"/><line x1="485.82" y1="82.8" x2="487.43" y2="78.49" stroke="#a8596a" stroke-width="0.8"/><line x1="481.65" y1="93.95" x2="483.26" y2="89.64" stroke="#a8596a" stroke-width="0.8"/><line x1="477.2" y1="105.84" x2="478.81" y2="101.53" stroke="#a8596a" stroke-width="0.8"/>
<line x1="539.71" y1="88.81" x2="542.84" y2="85.45" stroke="#b5626c" stroke-width="0.8"/><line x1="531.52" y1="97.59" x2="534.66" y2="94.22" stroke="#b5626c" stroke-width="0.8"/><line x1="523.54" y1="106.15" x2="526.68" y2="102.78" stroke="#b5626c" stroke-width="0.8"/><line x1="515.43" y1="114.85" x2="518.56" y2="111.48" stroke="#b5626c" stroke-width="0.8"/><line x1="506.77" y1="124.14" x2="509.9" y2="120.77" stroke="#b5626c" stroke-width="0.8"/>
<line x1="539.19" y1="273.21" x2="542.61" y2="276.29" stroke="#fbe6e2" stroke-width="0.8"/><line x1="530.5" y1="265.38" x2="533.91" y2="268.46" stroke="#fbe6e2" stroke-width="0.8"/><line x1="521.65" y1="257.42" x2="525.07" y2="260.5" stroke="#fbe6e2" stroke-width="0.8"/><line x1="512.21" y1="248.92" x2="515.63" y2="252" stroke="#fbe6e2" stroke-width="0.8"/>
<line x1="511.14" y1="310.28" x2="513.32" y2="314.33" stroke="#f6b29c" stroke-width="0.8"/><line x1="505.45" y1="299.71" x2="507.63" y2="303.76" stroke="#f6b29c" stroke-width="0.8"/><line x1="499.9" y1="289.41" x2="502.08" y2="293.46" stroke="#f6b29c" stroke-width="0.8"/><line x1="494.26" y1="278.93" x2="496.44" y2="282.98" stroke="#f6b29c" stroke-width="0.8"/><line x1="488.24" y1="267.75" x2="490.42" y2="271.8" stroke="#f6b29c" stroke-width="0.8"/>
<line x1="425.93" y1="325.23" x2="425.26" y2="329.78" stroke="#6b1525" stroke-width="1.5"/><line x1="427.68" y1="313.35" x2="427.01" y2="317.91" stroke="#6b1525" stroke-width="1.5"/><line x1="429.39" y1="301.78" x2="428.72" y2="306.33" stroke="#6b1525" stroke-width="1.5"/><line x1="431.13" y1="290.01" x2="430.46" y2="294.56" stroke="#6b1525" stroke-width="1.5"/><line x1="432.98" y1="277.44" x2="432.31" y2="281.99" stroke="#6b1525" stroke-width="1.5"/>
<line x1="436.53" y1="277.9" x2="436.04" y2="282.47" stroke="#c8484a" stroke-width="1.2"/>
<line x1="394.31" y1="316.61" x2="392.58" y2="320.87" stroke="#f8c8b8" stroke-width="0.8"/><line x1="398.82" y1="305.49" x2="397.09" y2="309.75" stroke="#f8c8b8" stroke-width="0.8"/><line x1="403.22" y1="294.65" x2="401.49" y2="298.91" stroke="#f8c8b8" stroke-width="0.8"/><line x1="407.7" y1="283.62" x2="405.97" y2="287.88" stroke="#f8c8b8" stroke-width="0.8"/><line x1="412.48" y1="271.85" x2="410.75" y2="276.12" stroke="#f8c8b8" stroke-width="0.8"/>
<line x1="310.75" y1="213.51" x2="306.22" y2="214.32" stroke="#93414c" stroke-width="1.0"/><line x1="322.56" y1="211.4" x2="318.03" y2="212.21" stroke="#93414c" stroke-width="1.0"/><line x1="334.08" y1="209.34" x2="329.55" y2="210.15" stroke="#93414c" stroke-width="1.0"/><line x1="345.79" y1="207.24" x2="341.27" y2="208.05" stroke="#93414c" stroke-width="1.0"/><line x1="358.29" y1="205" x2="353.77" y2="205.81" stroke="#93414c" stroke-width="1.0"/>
<line x1="308.76" y1="182.71" x2="304.16" y2="182.49" stroke="#a85560" stroke-width="1.0"/><line x1="320.74" y1="183.28" x2="316.15" y2="183.06" stroke="#a85560" stroke-width="1.0"/><line x1="332.43" y1="183.84" x2="327.84" y2="183.62" stroke="#a85560" stroke-width="1.0"/><line x1="344.32" y1="184.42" x2="339.72" y2="184.2" stroke="#a85560" stroke-width="1.0"/><line x1="357" y1="185.03" x2="352.41" y2="184.8" stroke="#a85560" stroke-width="1.0"/>
<line x1="332.9" y1="111.28" x2="329.11" y2="108.67" stroke="#b5485a" stroke-width="1.0"/><line x1="342.78" y1="118.09" x2="338.99" y2="115.48" stroke="#b5485a" stroke-width="1.0"/><line x1="352.41" y1="124.74" x2="348.62" y2="122.12" stroke="#b5485a" stroke-width="1.0"/><line x1="362.2" y1="131.49" x2="358.42" y2="128.88" stroke="#b5485a" stroke-width="1.0"/><line x1="372.66" y1="138.71" x2="368.87" y2="136.09" stroke="#b5485a" stroke-width="1.0"/>
<line x1="373.49" y1="72.59" x2="371.07" y2="68.68" stroke="#5a0a18" stroke-width="2.0"/><line x1="379.83" y1="82.78" x2="377.4" y2="78.87" stroke="#5a0a18" stroke-width="2.0"/><line x1="386" y1="92.72" x2="383.57" y2="88.81" stroke="#5a0a18" stroke-width="2.0"/><line x1="392.28" y1="102.83" x2="389.85" y2="98.92" stroke="#5a0a18" stroke-width="2.0"/><line x1="398.98" y1="113.62" x2="396.55" y2="109.71" stroke="#5a0a18" stroke-width="2.0"/>
<text x="446.8" y="52.8" font-size="9" text-anchor="middle">1.1</text>
<text x="446.8" y="64.8" font-size="9" text-anchor="middle">1.2</text>
<text x="446.8" y="76.5" font-size="9" text-anchor="middle">1.3</text>
<text x="446.8" y="88.4" font-size="9" text-anchor="middle">1.4</text>
<text x="446.8" y="101.1" font-size="9" text-anchor="middle">B</text>
<text x="443.2" y="193.8" font-size="13" text-anchor="middle">LGS-1</text>
<rect x="564.1" y="337.1" width="6.38" height="11.9" fill="#2b3a86"/><rect x="570.18" y="337.1" width="6.38" height="11.9" fill="#2a55a0"/><rect x="576.26" y="337.1" width="6.38" height="11.9" fill="#2668b0"/><rect x="582.34" y="337.1" width="6.38" height="11.9" fill="#2f7cbb"/><rect x="588.42" y="337.1" width="6.38" height="11.9" fill="#4292c6"/><rect x="594.5" y="337.1" width="6.38" height="11.9" fill="#5ba3d0"/><rect x="600.58" y="337.1" width="6.38" height="11.9" fill="#7fb8da"/><rect x="606.66" y="337.1" width="6.38" height="11.9" fill="#a3cce3"/><rect x="612.74" y="337.1" width="6.38" height="11.9" fill="#c0d8ec"/><rect x="618.82" y="337.1" width="6.38" height="11.9" fill="#d7e5f3"/><rect x="636.1" y="337.1" width="6.38" height="11.9" fill="#fde0d2"/><rect x="642.18" y="337.1" width="6.38" height="11.9" fill="#fcc4ad"/><rect x="648.26" y="337.1" width="6.38" height="11.9" fill="#fca689"/><rect x="654.34" y="337.1" width="6.38" height="11.9" fill="#fb8565"/><rect x="660.42" y="337.1" width="6.38" height="11.9" fill="#f6634a"/><rect x="666.5" y="337.1" width="6.38" height="11.9" fill="#ea3f30"/><rect x="672.58" y="337.1" width="6.38" height="11.9" fill="#d52422"/><rect x="678.66" y="337.1" width="6.38" height="11.9" fill="#b8151a"/><rect x="684.74" y="337.1" width="6.38" height="11.9" fill="#940c14"/><rect x="690.82" y="337.1" width="6.38" height="11.9" fill="#67000d"/>
<text x="564.7" y="363.4" font-size="13" text-anchor="middle">0</text>
<text x="630.4" y="363.4" font-size="13" text-anchor="middle">2</text>
<text x="694.6" y="363.4" font-size="13" text-anchor="middle">4</text>
<text x="630.2" y="382.3" font-size="13" text-anchor="middle">DNA copy number</text>
</g>
<g><path d="M69.6 468.64 V610.8 H243.16" fill="none" stroke="#333" stroke-width="0.9"/>
<line x1="87.56" y1="610.8" x2="87.56" y2="614" stroke="#333" stroke-width="0.9"/><text x="86.06" y="629.6" font-size="13" text-anchor="middle">–20</text>
<line x1="118.68" y1="610.8" x2="118.68" y2="614" stroke="#333" stroke-width="0.9"/><text x="117.18" y="629.6" font-size="13" text-anchor="middle">–10</text>
<line x1="149.8" y1="610.8" x2="149.8" y2="614" stroke="#333" stroke-width="0.9"/><text x="149.8" y="629.6" font-size="13" text-anchor="middle">0</text>
<line x1="180.92" y1="610.8" x2="180.92" y2="614" stroke="#333" stroke-width="0.9"/><text x="180.92" y="629.6" font-size="13" text-anchor="middle">10</text>
<line x1="212.04" y1="610.8" x2="212.04" y2="614" stroke="#333" stroke-width="0.9"/><text x="212.04" y="629.6" font-size="13" text-anchor="middle">20</text>
<line x1="243.16" y1="610.8" x2="243.16" y2="614" stroke="#333" stroke-width="0.9"/><text x="243.16" y="629.6" font-size="13" text-anchor="middle">30</text>
<line x1="66.4" y1="577.03" x2="69.6" y2="577.03" stroke="#333" stroke-width="0.9"/><text x="61.6" y="581.63" font-size="13" text-anchor="end">–10</text>
<line x1="66.4" y1="540.9" x2="69.6" y2="540.9" stroke="#333" stroke-width="0.9"/><text x="61.6" y="545.5" font-size="13" text-anchor="end">0</text>
<line x1="66.4" y1="504.77" x2="69.6" y2="504.77" stroke="#333" stroke-width="0.9"/><text x="61.6" y="509.37" font-size="13" text-anchor="end">10</text>
<line x1="66.4" y1="468.64" x2="69.6" y2="468.64" stroke="#333" stroke-width="0.9"/><text x="61.6" y="473.24" font-size="13" text-anchor="end">20</text>
<text x="155.18" y="648.3" font-size="13" text-anchor="middle">Dimension 1</text>
<text transform="translate(31.1 522.5) rotate(-90)" font-size="13" text-anchor="middle">Dimension 2</text>
<path d="M134.52 561.81h.01M163.32 571.74h.01M163.48 564.11h.01M155.7 559.38h.01M124.51 539.34h.01M127.56 547.23h.01M77.61 555.55h.01M139.3 566.81h.01M149.04 582.18h.01M176.78 556.6h.01M92.66 554.97h.01M86.43 563.11h.01M151.76 592.61h.01M144.39 575.44h.01M118.25 561.64h.01M96.93 587.24h.01M169.12 560.67h.01M144.52 559.78h.01M102.9 578.44h.01M106.83 559.94h.01M121.42 549.64h.01M148.08 564.87h.01M149.38 557.18h.01M105.54 577.54h.01M172.48 573.34h.01M132.68 527.17h.01M149.43 565.54h.01M96.03 555.63h.01M154.93 567.22h.01M127.24 568.97h.01M132.26 562.91h.01M124.66 571.76h.01M116.81 586.13h.01M159.37 581.36h.01M134.5 578.59h.01M95.49 574.68h.01M168.06 571.23h.01M113.67 587.34h.01M144.16 598.36h.01M127.17 549.26h.01M146.83 575.79h.01M195.86 484.54h.01M100.1 557.1h.01M81.48 562.56h.01M142.3 568.1h.01M126.24 572.83h.01M106.66 579.8h.01M159.34 554.97h.01M104.32 561.15h.01M161.74 583h.01M147.94 567.21h.01M113.08 498.23h.01M156.65 527.89h.01M167.55 572.46h.01M167.81 552.48h.01M159.59 558.22h.01M98.99 572.25h.01M78.13 563.59h.01M140.84 588.3h.01M151.36 533.67h.01M105.7 557.5h.01M112.46 513.8h.01M137.97 526.09h.01M163.62 584.67h.01M131.67 574.94h.01M84.39 558.3h.01M148.59 567.87h.01M177.57 556.46h.01M84.16 566.33h.01M136.15 573.82h.01M126.73 558.1h.01M130.29 560.68h.01M120.08 555.38h.01M176.85 566.46h.01M101.03 579.61h.01M78.79 566.41h.01M133.77 565.29h.01M163.54 569.67h.01M156.71 558.3h.01M154.32 561.63h.01M154.24 554.54h.01M162.82 568.52h.01M141.74 558.67h.01M103.12 532.95h.01M125.69 591.15h.01M76.65 556.5h.01M135.45 548.65h.01M117.09 575.32h.01M150.59 574.39h.01M106.38 587.75h.01M164.35 563.27h.01M134.72 538.02h.01M122.14 571.03h.01M172.1 575.55h.01M93.98 575.04h.01M84.85 576.83h.01M155.4 530.78h.01M111.99 587.49h.01M135.3 553.72h.01M142.09 587.45h.01M96.62 565.43h.01M106.84 568.52h.01M113.62 557.83h.01M160.25 560.83h.01M96.86 542.93h.01M112.46 545.24h.01M156.41 562.9h.01M173.65 563.33h.01M112.04 559.01h.01M117.6 559h.01M138.95 540.75h.01M146.69 535.48h.01M114.93 567.94h.01M126.89 572.48h.01M117.86 575.41h.01M95.89 563.09h.01M129.43 571.99h.01M159.31 578.83h.01M165.31 556.03h.01M153.89 588.19h.01M153.39 561.48h.01M144.11 568.48h.01M107.67 554.49h.01M83.64 557.51h.01M155.37 561.27h.01M111.83 516.33h.01M139.09 581.15h.01M89.68 577.34h.01M134.29 560.24h.01M135.03 574.78h.01M155.65 571.93h.01M160.24 563.12h.01M114.32 504.05h.01M138.09 560.15h.01M138.09 584.63h.01M129.4 560.67h.01M170.45 557.54h.01M134.78 560.63h.01M178.78 545.46h.01M131.64 556.18h.01M122.31 548.86h.01M98.6 575.04h.01M121.3 542.78h.01M123.27 583.04h.01M129.53 570.39h.01M170.03 542.71h.01M83.81 570.52h.01M93.47 554.05h.01M123.26 551.16h.01M116.23 496.33h.01M75.54 562.14h.01M121.81 539.37h.01M114.45 552.76h.01M161.59 552.89h.01M150.69 589.6h.01M83.18 570.1h.01M130.59 537.25h.01M103.41 576.75h.01M88.33 547.6h.01M157.57 567.92h.01M132.35 587.03h.01M114.58 497.38h.01M156.06 568.52h.01M98.82 556.85h.01M103.12 565.87h.01M89.48 564.85h.01M86.16 574.48h.01M129.28 566.68h.01M112.26 561.31h.01M92.12 557.68h.01M107.27 557.81h.01M113.08 501.88h.01M79.09 555.45h.01M153.09 554.96h.01M115.19 497.12h.01M152.11 558.68h.01M116.77 563.6h.01M93.72 572.96h.01M170.04 572.2h.01M114.6 546.27h.01M140.46 542.71h.01M157.58 524.64h.01M124.05 560.53h.01M156.17 547.73h.01M139.5 589.58h.01M150.86 574.95h.01M84.19 575.49h.01M96.09 571.78h.01M122.12 587.81h.01M82.66 563.02h.01M164.36 569.39h.01M152.5 565h.01M171.62 557.46h.01M156.87 558.71h.01M112.96 594.99h.01M159.3 571.52h.01M128.79 559.27h.01M84.96 557.91h.01M99.61 564.62h.01M163.58 560.43h.01M94.63 559.28h.01M154.2 573.01h.01M141.44 579.67h.01M154.77 571.67h.01M105.18 568.08h.01M113.56 497.7h.01M134.74 595.88h.01M135.43 560.65h.01M100.04 561.03h.01M150.02 540.05h.01M88.98 556.47h.01M118.2 570.96h.01M88.93 567.33h.01M105.66 589.94h.01M134.69 541.7h.01M97.08 566.58h.01M80.32 557.81h.01M118.81 564.16h.01M182.73 565.69h.01M154.78 498.27h.01M131.75 535.48h.01M110.08 557.59h.01M120.95 561.43h.01M151.71 589.03h.01M123.8 572.54h.01M114.48 496.15h.01M177.5 546.84h.01M180.97 548.98h.01M110.51 565.48h.01M119.69 573.21h.01M138.74 567.22h.01M82.31 558.41h.01M152.82 570.72h.01M177.54 546.9h.01M177.99 555.06h.01M112.23 570.92h.01M82.95 562.79h.01M93.18 560.66h.01M124.38 554.79h.01M136.73 563.78h.01M97.18 572.6h.01M114.6 548.02h.01M115.31 558.34h.01M147.25 541.46h.01M103.64 555.8h.01M143.01 544.42h.01M150.9 574.66h.01M160.92 545.2h.01M143.84 560.25h.01M143.1 560.07h.01M165.25 566.23h.01M169.15 548.25h.01M97.14 563.2h.01M170.88 554.27h.01M139.01 544.29h.01M101.27 580.15h.01M113.04 498.03h.01M140.18 590.16h.01M157.9 556.8h.01M142.82 557.17h.01M126.43 563.43h.01M81.38 564.69h.01M114.8 496.01h.01M126.44 573.28h.01M98.67 569.11h.01M141.05 570.5h.01M115.13 497.23h.01M163.02 586.04h.01M138.17 589.68h.01M104.04 557.62h.01M112.63 565.29h.01M180.1 568.18h.01M131.13 531.87h.01M174.07 543.79h.01M115.7 493.89h.01M81.81 565.79h.01M141.33 542.02h.01M101.5 579.14h.01M99.91 544.43h.01M173.36 562.19h.01M116.62 570.08h.01M102.16 557.69h.01M178.04 566.06h.01M130.51 538.01h.01M154.27 566.83h.01M80.55 561.31h.01M122.47 581.22h.01M82.75 561.21h.01M88.65 575.81h.01M138.4 573.01h.01M155.85 548.48h.01M174.03 563.78h.01M173.85 561.09h.01M164.65 556.6h.01M161.25 569.58h.01M141.31 576.6h.01M129.34 551.46h.01M116.19 490.32h.01M136.62 560.41h.01M135.09 562.3h.01M159.97 561.82h.01M103.66 577.76h.01M135.81 575.19h.01M112.6 541.79h.01M137.93 587.24h.01M117.33 566.25h.01M83.26 574.54h.01M105.56 562.68h.01M139.89 571.17h.01M122.22 576.57h.01M146.46 589.61h.01M165.19 577.72h.01M128.4 559.79h.01M110.31 561.25h.01M158.43 549.57h.01M153.04 545.96h.01M106.4 572.87h.01M119.66 576.09h.01M164.62 559.47h.01M94.8 548.63h.01M124.36 548.27h.01M136.27 543.89h.01M164.05 575.65h.01M93.26 564.12h.01M137.14 592.75h.01M125.02 537.27h.01M94.14 562.42h.01M156.77 563.92h.01M165.63 556.62h.01M145.98 576.7h.01M149.68 571.66h.01M92.23 585.54h.01M80.94 571.3h.01M182.28 567.52h.01M136.99 559.05h.01M125.01 597.86h.01M136.68 580.2h.01M129.8 590.09h.01M90.42 564.4h.01M164.71 579.2h.01M143.82 575.73h.01M96.25 559.76h.01M110.31 585.98h.01M152.42 581.45h.01M113.32 561.31h.01M101.95 565.86h.01M144.71 570.89h.01M176.25 546.32h.01M101.09 558.27h.01M133.46 577.82h.01M88.38 551.32h.01M153.88 567.12h.01M107.54 546.28h.01M145.02 562.29h.01M81.55 557.22h.01M106.02 559.73h.01M122.67 537.87h.01M149.85 580.21h.01M117.54 565.97h.01M92.55 569.86h.01M113.71 577.58h.01M161.46 554.93h.01M143.57 561.63h.01M179.24 550.26h.01M175.02 560.59h.01M158.51 571.05h.01M176.04 564.23h.01M178.53 559.91h.01M145.66 563.15h.01M165.85 552.4h.01M123.96 563.2h.01M175.71 564.87h.01M162.74 550.62h.01M120.71 553.01h.01M152.98 548.75h.01M172.14 565.62h.01M102.71 561.56h.01M152.87 573.36h.01M97.11 559.77h.01M120.14 576.3h.01M120.13 569.6h.01M120.18 546.2h.01M169.53 565.64h.01M114.66 495.68h.01M178.12 566.58h.01M145.56 594.62h.01M121.79 537.29h.01M159.1 568.09h.01M83.15 563.94h.01M157.13 557.72h.01M102.87 557.49h.01M91.24 569.12h.01M91.79 564.9h.01M101.61 555.45h.01M112.89 543.8h.01M142.87 565.82h.01M145.01 583.4h.01M128.21 568.05h.01M126.4 584.36h.01M124.67 555.88h.01M121.18 579.89h.01M129.42 585.6h.01M105.47 570.91h.01M179.39 565.11h.01M139.65 571.74h.01M182 564.81h.01M166.66 544.44h.01M92.64 562.04h.01M136.27 559.98h.01M93.88 570.75h.01M159.49 574.81h.01M125.47 555.57h.01M134.84 568.22h.01M165.36 544.15h.01M114.64 496.7h.01M146.09 567.64h.01M82.93 554.63h.01M170.6 557.26h.01M104.82 590.73h.01M102.46 582.74h.01M94.87 559.58h.01M115.71 537.21h.01M152.05 575.5h.01M105.74 592.1h.01M88.07 562.82h.01M115.81 559.53h.01M83.99 579.35h.01M132.98 555.49h.01M156.91 564.04h.01M113.7 489.23h.01M81.61 573.53h.01M86.53 570.18h.01M180.33 545.38h.01M163.8 535.48h.01M120.47 568.72h.01M105.7 554.59h.01M85.49 549.51h.01M147.27 556.96h.01M163.23 581.25h.01M117.78 541.48h.01M175.05 557.25h.01M164.33 561.77h.01M141.09 526.45h.01M134.86 526.45h.01M131.74 565.86h.01M117.56 559.88h.01M121.54 587.31h.01M143.61 560.76h.01M86.93 557.33h.01M135.5 571.64h.01M90.51 581.22h.01M175.19 557.96h.01M142.74 566.03h.01M101.94 566.29h.01M159.77 560.48h.01M177.81 540.9h.01M177.91 552.42h.01M157.93 558.08h.01M144.43 570.3h.01M138.73 558.36h.01M171.22 576.28h.01M146.86 567.36h.01M154.68 564.97h.01M101.79 553.37h.01M124.9 543.79h.01M135.93 582.85h.01M88.2 575.19h.01M85.02 570h.01M155 552.77h.01M171.93 564.76h.01M105.33 572.33h.01M175.13 573.38h.01M164.93 574.01h.01M147.68 562.76h.01M114.38 562.93h.01M116.32 557.41h.01M103.1 568.53h.01M128.45 568.28h.01M107.48 574.43h.01M153.26 591.76h.01M95.34 561.84h.01M143.36 578.84h.01M88.25 567.16h.01M170.45 572.02h.01M108.86 591.39h.01M77.06 561.96h.01M108.18 548.45h.01M79.38 569.9h.01M136.42 560.71h.01M143.58 539.09h.01M117.02 561.52h.01M163.67 545.25h.01M97.77 558.84h.01M113.31 495.99h.01M160.89 564.43h.01M170.91 540.61h.01M121.96 565.39h.01M100.25 562.59h.01M132.14 550.44h.01M151.43 563.58h.01M162.6 570.94h.01M143.24 550.08h.01M181.81 557.16h.01M86.89 558.59h.01M100.62 581.85h.01M159.58 572.61h.01M143.82 563.92h.01M179.52 558.3h.01M156.14 571.69h.01M96.5 557.32h.01M97.08 554.39h.01M80.94 563.79h.01M133.46 581.1h.01M114.82 495.84h.01M83.52 576.81h.01M91.43 553.47h.01M153.53 532.95h.01M90.69 558.93h.01M154.17 553.52h.01M164.71 584.54h.01M112.84 573.53h.01M90.08 570.97h.01M144.57 563.28h.01M131.71 542.98h.01M105.12 584.71h.01M105.07 587.71h.01M118.68 539.09h.01M100.23 554.96h.01M110.71 570.66h.01M134.19 566.97h.01M117.39 552.35h.01M77.64 568.32h.01M147.91 563.1h.01M102.5 535.12h.01M136.87 580.97h.01M92.16 570.29h.01M158.56 572.74h.01M123.36 566.24h.01M124.6 559.87h.01M93.15 561.87h.01M110.99 587.56h.01M111.86 543.59h.01M130.17 584.11h.01M88.4 558.44h.01M128.94 564.66h.01M92.86 576.75h.01M177.79 554.76h.01M141.26 570.51h.01M110.35 552.16h.01M109.81 541.21h.01M110.45 564.7h.01M103.74 530.78h.01M180.54 563.53h.01M137.43 576.71h.01M128.41 549.39h.01M172.98 556.03h.01M141.28 585.12h.01M97.61 563.55h.01M171.53 566.92h.01M103.31 564.64h.01M143.18 579.24h.01M110.33 559.36h.01M145 581.31h.01M159.14 538.01h.01M173.79 544.91h.01M169.73 576.55h.01M77.47 566.45h.01M99.6 568.83h.01M93.63 582.49h.01M114.09 497h.01M77.46 565.36h.01M126.73 553.79h.01M164.37 540.11h.01M142.49 565.24h.01M131.83 567.43h.01M113.5 496.54h.01M138.11 557.49h.01M108.77 563.07h.01M135.53 551.6h.01M129.11 560.38h.01M132.11 571.11h.01M85.55 575.15h.01M144.33 573.8h.01M164.15 554.07h.01M80.79 559.32h.01M166.92 537.29h.01M131 570.58h.01M151.73 557.26h.01M93.39 558.71h.01" fill="none" stroke="#f08535" stroke-width="2.1" stroke-linecap="round"/>
<path d="M152.17 467.99h.01M161.63 475.14h.01M155.4 488.15h.01M179.78 470.9h.01M141.71 478.76h.01M173.27 472.55h.01M167.23 493.21h.01M169.76 470.69h.01M156.02 480.2h.01M173.97 478.75h.01M154.64 475.57h.01M174.84 465.64h.01M174.07 473.64h.01M228.84 553.18h.01M147.82 464.38h.01M147.94 473.51h.01M149.57 467.93h.01M150.63 475.49h.01M148.29 464.92h.01M160.38 483.09h.01M173.78 469.42h.01M174.7 513.44h.01M165.33 471.6h.01M164.12 484.54h.01M138.6 482.37h.01M172.31 464.16h.01M144.43 463.88h.01M150.57 465.68h.01M153.3 459.64h.01M154.22 463.24h.01M182.16 470.67h.01M173.67 471.45h.01M162.92 466.08h.01M162.25 478.76h.01M152.34 466.42h.01M157.89 473.7h.01M148.24 481.65h.01M176.15 478.6h.01M150.35 472.16h.01M169.77 463.02h.01M148.69 464.08h.01M154.78 491.76h.01M167.7 472.9h.01M156.02 459.25h.01M153.05 470.14h.01M180.13 464.94h.01M169.09 494.65h.01M179.91 474.84h.01M164.4 474.63h.01M150.25 470.6h.01M148.75 467.68h.01M178.38 475.64h.01M164.4 464.33h.01M180.92 496.1h.01M164.97 473.15h.01M181.54 480.35h.01M154.39 471.26h.01M159.13 478.94h.01M179.76 469.18h.01M178.65 470.4h.01M149.77 468.4h.01M170.03 467.82h.01M150.23 471.32h.01M175.04 473.55h.01M158.51 479.48h.01M150.42 480.92h.01M150.67 468.2h.01M170.39 467.08h.01M146.48 463.45h.01M178.43 504.05h.01M152.06 465.19h.01M153.23 462.51h.01M166.37 468.81h.01M182.16 475.68h.01M177.55 476.19h.01M175.63 514.53h.01M149.63 465.33h.01M168.7 472.67h.01M178.43 540.54h.01M175.68 470.31h.01M167.85 485.98h.01M170.56 472.47h.01M159.14 486.7h.01M163.74 474.12h.01M154.47 483.81h.01M168.19 473.67h.01M145.43 472.6h.01M149.96 473.4h.01M170.67 469.11h.01M192.12 493.93h.01M171.8 484.31h.01M157.25 474.03h.01M175.25 466.68h.01M173.3 466.17h.01M167.8 470.57h.01M156.7 477.44h.01M167.95 463.44h.01M154.18 464.69h.01M153.05 468.91h.01M177.03 468.95h.01M176.47 465.97h.01M172.23 466.88h.01M165.98 489.6h.01M150.03 467.19h.01M173.76 514.16h.01M170.96 472.28h.01M175.32 542.35h.01M177.29 473.06h.01M169.84 462.49h.01" fill="none" stroke="#d9282e" stroke-width="2.1" stroke-linecap="round"/>
<path d="M189.94 501.6h.01M184.03 478.76h.01M193.83 494.71h.01M190.14 512.03h.01M184.76 515.17h.01M173.45 459.25h.01M183.9 497.58h.01M182.69 521.7h.01M188.29 508.06h.01M178.78 519.83h.01M187.57 496.04h.01M189.47 503.58h.01M187.36 499.87h.01M189.52 515.93h.01M191.21 504.19h.01M187.8 517.16h.01M192.73 515.18h.01M187.56 502.53h.01M195.53 506.21h.01M191.56 512.95h.01M179.85 509.75h.01M191.14 512.09h.01M114.95 488.87h.01M195.56 496.02h.01M179.05 550.29h.01M190.81 510.05h.01M76.36 553.91h.01M194.72 506.79h.01M180.93 502.81h.01M191.13 532.47h.01M184.78 513.52h.01M192.03 497.06h.01M140.46 526.45h.01M189.21 521.73h.01M186.66 511.83h.01M189.95 508.77h.01M184.57 507.39h.01M181.78 498.71h.01M207.06 597.99h.01M183.11 515.08h.01M184.06 519.25h.01M189.63 472.25h.01M191.96 512.17h.01M181.99 499.83h.01M191.63 500.28h.01M193.17 510.22h.01M185.59 473.7h.01M186.52 470.81h.01M193.05 510.04h.01M151.67 458.52h.01M187.92 503.5h.01M188.43 516.24h.01M122.41 493.21h.01M190.86 518.59h.01M164.12 480.2h.01M189.27 509h.01M172.21 457.08h.01M187.77 475.14h.01M127.39 492.49h.01M165.98 485.26h.01M189.55 510.01h.01M194.83 491.91h.01M191 505.64h.01M179.71 524.32h.01M189.6 524.15h.01M198.34 501.67h.01M196.92 505.05h.01M202.83 508.21h.01M190.62 506h.01M133.62 526.81h.01M187.14 479.48h.01M180.65 512.49h.01M191.87 513.66h.01" fill="none" stroke="#3d7fbd" stroke-width="2.1" stroke-linecap="round"/>
<path d="M236.55 557h.01M233.35 562.25h.01M235.7 562.31h.01M233.06 566.09h.01M233.06 556.76h.01M237.15 561.11h.01M240.25 569.71h.01M229.05 563.58h.01M231.27 561.13h.01M229.11 554.69h.01M238.42 561.81h.01M240.15 563.89h.01M240.13 563.11h.01M208.93 576.31h.01M238.22 560.34h.01M236.51 568.02h.01M232.5 553.56h.01M230.86 562.97h.01M229.54 559.45h.01M232.89 559.76h.01M234.18 564.92h.01M236.18 562.42h.01M233.54 560.05h.01M226.98 571.97h.01M207.68 577.75h.01M222 553.91h.01M231.87 565.36h.01M233.33 559.58h.01M235.97 564.02h.01M230.58 566.2h.01M237.88 562.04h.01M227.6 568.36h.01M229.92 559.2h.01M235.68 566h.01M223.87 557.52h.01M234.86 566.19h.01M235.63 559.81h.01M236.08 559.06h.01M229.1 563.09h.01M231.74 561.43h.01M232.46 566.97h.01M234.12 561.72h.01M231.6 561.03h.01M216.71 550.29h.01M233.79 555.21h.01M236.54 562.88h.01M230.79 560.16h.01" fill="none" stroke="#3bab3f" stroke-width="2.1" stroke-linecap="round"/>
<path d="M196.48 590.76h.01M199.61 597.76h.01M200.88 596.04h.01M199.65 598.5h.01M197.1 592.93h.01M200.32 598.39h.01M195.86 598.71h.01M197.9 595.38h.01M198.52 595.83h.01M197.61 597.67h.01M197.83 594.96h.01M199.36 595.37h.01M198.2 595.31h.01M199.97 598.08h.01M197.73 600.44h.01M203.95 597.99h.01M199.26 599.03h.01M200.22 600.16h.01M201.23 591.87h.01M200.73 597.1h.01M200.6 596.78h.01M205.82 598.71h.01M197.74 596.7h.01M201.37 596.62h.01M200.3 596.39h.01M197.74 596.49h.01M200.21 601.6h.01M202.19 595.7h.01M198.35 603.77h.01M197.73 597.58h.01M194.97 592.76h.01" fill="none" stroke="#9a4ea6" stroke-width="2.1" stroke-linecap="round"/>
<rect x="220.6" y="413.8" width="32.9" height="84.9" fill="#fff" stroke="#000" stroke-width="1.2"/>
<circle cx="232.1" cy="425.3" r="4.1" fill="#d9282e"/><text x="241.8" y="429.8" font-size="13" text-anchor="start">1</text>
<circle cx="232.1" cy="441.1" r="4.1" fill="#3d7fbd"/><text x="241.8" y="445.6" font-size="13" text-anchor="start">2</text>
<circle cx="232.1" cy="456.7" r="4.1" fill="#3bab3f"/><text x="241.8" y="461.2" font-size="13" text-anchor="start">3</text>
<circle cx="232.1" cy="472.6" r="4.1" fill="#9a4ea6"/><text x="241.8" y="477.1" font-size="13" text-anchor="start">4</text>
<circle cx="232.1" cy="488.5" r="4.1" fill="#f08535"/><text x="241.8" y="493" font-size="13" text-anchor="start">5</text>
<path d="M336.3 468.64 V610.8 H511.38" fill="none" stroke="#333" stroke-width="0.9"/>
<line x1="354.58" y1="610.8" x2="354.58" y2="614" stroke="#333" stroke-width="0.9"/><text x="353.08" y="629.6" font-size="13" text-anchor="middle">–20</text>
<line x1="385.94" y1="610.8" x2="385.94" y2="614" stroke="#333" stroke-width="0.9"/><text x="384.44" y="629.6" font-size="13" text-anchor="middle">–10</text>
<line x1="417.3" y1="610.8" x2="417.3" y2="614" stroke="#333" stroke-width="0.9"/><text x="417.3" y="629.6" font-size="13" text-anchor="middle">0</text>
<line x1="448.66" y1="610.8" x2="448.66" y2="614" stroke="#333" stroke-width="0.9"/><text x="448.66" y="629.6" font-size="13" text-anchor="middle">10</text>
<line x1="480.02" y1="610.8" x2="480.02" y2="614" stroke="#333" stroke-width="0.9"/><text x="480.02" y="629.6" font-size="13" text-anchor="middle">20</text>
<line x1="511.38" y1="610.8" x2="511.38" y2="614" stroke="#333" stroke-width="0.9"/><text x="511.38" y="629.6" font-size="13" text-anchor="middle">30</text>
<line x1="333.1" y1="577.03" x2="336.3" y2="577.03" stroke="#333" stroke-width="0.9"/><text x="328.3" y="581.63" font-size="13" text-anchor="end">–10</text>
<line x1="333.1" y1="540.9" x2="336.3" y2="540.9" stroke="#333" stroke-width="0.9"/><text x="328.3" y="545.5" font-size="13" text-anchor="end">0</text>
<line x1="333.1" y1="504.77" x2="336.3" y2="504.77" stroke="#333" stroke-width="0.9"/><text x="328.3" y="509.37" font-size="13" text-anchor="end">10</text>
<line x1="333.1" y1="468.64" x2="336.3" y2="468.64" stroke="#333" stroke-width="0.9"/><text x="328.3" y="473.24" font-size="13" text-anchor="end">20</text>
<text x="422.64" y="648.3" font-size="13" text-anchor="middle">Dimension 1</text>
<text transform="translate(297.8 522.5) rotate(-90)" font-size="13" text-anchor="middle">Dimension 2</text>
<path d="M401.9 561.81h.01M430.93 571.74h.01M431.09 564.11h.01M423.25 559.38h.01M391.81 539.34h.01M394.89 547.23h.01M344.55 555.55h.01M406.71 566.81h.01M416.54 582.18h.01M444.49 556.6h.01M359.72 554.97h.01M353.44 563.11h.01M419.27 592.61h.01M411.85 575.44h.01M385.51 561.64h.01M364.02 587.24h.01M436.77 560.67h.01M411.98 559.78h.01M370.04 578.44h.01M373.99 559.94h.01M388.7 549.64h.01M415.57 564.87h.01M416.88 557.18h.01M372.7 577.54h.01M440.15 573.34h.01M400.05 527.17h.01M416.93 565.54h.01M363.12 555.63h.01M422.47 567.22h.01M394.57 568.97h.01M399.62 562.91h.01M391.97 571.76h.01M384.06 586.13h.01M426.94 581.36h.01M401.88 578.59h.01M362.57 574.68h.01M435.7 571.23h.01M380.89 587.34h.01M411.62 598.36h.01M394.49 549.26h.01M414.31 575.79h.01M463.71 484.54h.01M367.21 557.1h.01M348.45 562.56h.01M409.74 568.1h.01M393.56 572.83h.01M373.83 579.8h.01M426.91 554.97h.01M371.47 561.15h.01M429.33 583h.01M415.43 567.21h.01M380.3 498.23h.01M424.2 527.89h.01M435.19 572.46h.01M435.45 552.48h.01M427.17 558.22h.01M366.1 572.25h.01M345.08 563.59h.01M408.27 588.3h.01M418.87 533.67h.01M372.86 557.5h.01M379.67 513.8h.01M405.38 526.09h.01M431.23 584.67h.01M399.03 574.94h.01M351.38 558.3h.01M416.08 567.87h.01M445.28 556.46h.01M351.15 566.33h.01M403.55 573.82h.01M394.06 558.1h.01M397.64 560.68h.01M387.35 555.38h.01M444.56 566.46h.01M368.15 579.61h.01M345.75 566.41h.01M401.14 565.29h.01M431.15 569.67h.01M424.27 558.3h.01M421.85 561.63h.01M421.77 554.54h.01M430.42 568.52h.01M409.18 558.67h.01M370.26 532.95h.01M393 591.15h.01M343.59 556.5h.01M402.84 548.65h.01M384.34 575.32h.01M418.09 574.39h.01M373.55 587.75h.01M431.97 563.27h.01M402.1 538.02h.01M389.43 571.03h.01M439.77 575.55h.01M361.05 575.04h.01M351.85 576.83h.01M422.94 530.78h.01M379.2 587.49h.01M402.68 553.72h.01M409.53 587.45h.01M363.71 565.43h.01M374.01 568.52h.01M380.84 557.83h.01M427.83 560.83h.01M363.95 542.93h.01M379.67 545.24h.01M423.96 562.9h.01M441.33 563.33h.01M379.25 559.01h.01M384.85 559h.01M406.37 540.75h.01M414.16 535.48h.01M382.16 567.94h.01M394.21 572.48h.01M385.11 575.41h.01M362.97 563.09h.01M396.77 571.99h.01M426.89 578.83h.01M432.93 556.03h.01M421.42 588.19h.01M420.92 561.48h.01M411.56 568.48h.01M374.85 554.49h.01M350.63 557.51h.01M422.91 561.27h.01M379.04 516.33h.01M406.51 581.15h.01M356.71 577.34h.01M401.67 560.24h.01M402.42 574.78h.01M423.2 571.93h.01M427.83 563.12h.01M381.55 504.05h.01M405.5 560.15h.01M405.5 584.63h.01M396.75 560.67h.01M438.11 557.54h.01M402.17 560.63h.01M446.5 545.46h.01M399 556.18h.01M389.6 548.86h.01M365.7 575.04h.01M388.58 542.78h.01M390.57 583.04h.01M396.87 570.39h.01M437.68 542.71h.01M350.8 570.52h.01M360.54 554.05h.01M390.55 551.16h.01M383.47 496.33h.01M342.46 562.14h.01M389.1 539.37h.01M381.67 552.76h.01M429.18 552.89h.01M418.19 589.6h.01M350.16 570.1h.01M397.94 537.25h.01M370.55 576.75h.01M355.36 547.6h.01M425.13 567.92h.01M399.72 587.03h.01M381.81 497.38h.01M423.61 568.52h.01M365.93 556.85h.01M370.26 565.87h.01M356.52 564.85h.01M353.17 574.48h.01M396.63 566.68h.01M379.47 561.31h.01M359.18 557.68h.01M374.44 557.81h.01M380.3 501.88h.01M346.04 555.45h.01M420.62 554.96h.01M382.42 497.12h.01M419.63 558.68h.01M384.02 563.6h.01M360.79 572.96h.01M437.7 572.2h.01M381.82 546.27h.01M407.89 542.71h.01M425.14 524.64h.01M391.35 560.53h.01M423.71 547.73h.01M406.92 589.58h.01M418.37 574.95h.01M351.19 575.49h.01M363.17 571.78h.01M389.4 587.81h.01M349.64 563.02h.01M431.98 569.39h.01M420.02 565h.01M439.28 557.46h.01M424.43 558.71h.01M380.18 594.99h.01M426.87 571.52h.01M396.13 559.27h.01M351.96 557.91h.01M366.72 564.62h.01M431.19 560.43h.01M361.7 559.28h.01M421.73 573.01h.01M408.88 579.67h.01M422.31 571.67h.01M372.33 568.08h.01M380.78 497.7h.01M402.12 595.88h.01M402.81 560.65h.01M367.15 561.03h.01M417.52 540.05h.01M356.01 556.47h.01M385.45 570.96h.01M355.96 567.33h.01M372.82 589.94h.01M402.07 541.7h.01M364.17 566.58h.01M347.29 557.81h.01M386.07 564.16h.01M450.49 565.69h.01M422.32 498.27h.01M399.11 535.48h.01M377.28 557.59h.01M388.23 561.43h.01M419.22 589.03h.01M391.1 572.54h.01M381.71 496.15h.01M445.22 546.84h.01M448.71 548.98h.01M377.71 565.48h.01M386.96 573.21h.01M406.15 567.22h.01M349.29 558.41h.01M420.34 570.72h.01M445.25 546.9h.01M445.71 555.06h.01M379.44 570.92h.01M349.93 562.79h.01M360.24 560.66h.01M391.68 554.79h.01M404.13 563.78h.01M364.28 572.6h.01M381.83 548.02h.01M382.54 558.34h.01M414.73 541.46h.01M370.78 555.8h.01M410.46 544.42h.01M418.41 574.66h.01M428.51 545.2h.01M411.29 560.25h.01M410.55 560.07h.01M432.86 566.23h.01M436.8 548.25h.01M364.23 563.2h.01M438.54 554.27h.01M406.43 544.29h.01M368.4 580.15h.01M380.25 498.03h.01M407.61 590.16h.01M425.46 556.8h.01M410.27 557.17h.01M393.75 563.43h.01M348.35 564.69h.01M382.03 496.01h.01M393.76 573.28h.01M365.77 569.11h.01M408.49 570.5h.01M382.37 497.23h.01M430.63 586.04h.01M405.58 589.68h.01M371.18 557.62h.01M379.84 565.29h.01M447.83 568.18h.01M398.48 531.87h.01M441.76 543.79h.01M382.94 493.89h.01M348.79 565.79h.01M408.76 542.02h.01M368.62 579.14h.01M367.02 544.43h.01M441.04 562.19h.01M383.87 570.08h.01M369.29 557.69h.01M445.76 566.06h.01M397.86 538.01h.01M421.81 566.83h.01M347.52 561.31h.01M389.76 581.22h.01M349.73 561.21h.01M355.68 575.81h.01M405.81 573.01h.01M423.4 548.48h.01M441.72 563.78h.01M441.54 561.09h.01M432.27 556.6h.01M428.84 569.58h.01M408.74 576.6h.01M396.69 551.46h.01M383.43 490.32h.01M404.02 560.41h.01M402.48 562.3h.01M427.55 561.82h.01M370.8 577.76h.01M403.21 575.19h.01M379.81 541.79h.01M405.34 587.24h.01M384.58 566.25h.01M350.25 574.54h.01M372.72 562.68h.01M407.31 571.17h.01M389.5 576.57h.01M413.93 589.61h.01M432.8 577.72h.01M395.74 559.79h.01M377.51 561.25h.01M425.99 549.57h.01M420.57 545.96h.01M373.56 572.87h.01M386.92 576.09h.01M432.23 559.47h.01M361.88 548.63h.01M391.67 548.27h.01M403.67 543.89h.01M431.66 575.65h.01M360.32 564.12h.01M404.55 592.75h.01M392.33 537.27h.01M361.21 562.42h.01M424.32 563.92h.01M433.25 556.62h.01M413.45 576.7h.01M417.17 571.66h.01M359.28 585.54h.01M347.91 571.3h.01M450.03 567.52h.01M404.39 559.05h.01M392.32 597.86h.01M404.08 580.2h.01M397.15 590.09h.01M357.46 564.4h.01M432.32 579.2h.01M411.28 575.73h.01M363.34 559.76h.01M377.5 585.98h.01M419.94 581.45h.01M380.53 561.31h.01M369.08 565.86h.01M412.17 570.89h.01M443.96 546.32h.01M368.21 558.27h.01M400.84 577.82h.01M355.4 551.32h.01M421.41 567.12h.01M374.72 546.28h.01M412.48 562.29h.01M348.52 557.22h.01M373.18 559.73h.01M389.96 537.87h.01M417.35 580.21h.01M384.79 565.97h.01M359.61 569.86h.01M380.94 577.58h.01M429.05 554.93h.01M411.03 561.63h.01M446.97 550.26h.01M442.71 560.59h.01M426.07 571.05h.01M443.74 564.23h.01M446.26 559.91h.01M413.13 563.15h.01M433.47 552.4h.01M391.26 563.2h.01M443.41 564.87h.01M430.34 550.62h.01M387.99 553.01h.01M420.51 548.75h.01M439.82 565.62h.01M369.85 561.56h.01M420.4 573.36h.01M364.2 559.77h.01M387.41 576.3h.01M387.4 569.6h.01M387.45 546.2h.01M437.18 565.64h.01M381.89 495.68h.01M445.84 566.58h.01M413.02 594.62h.01M389.08 537.29h.01M426.67 568.09h.01M350.14 563.94h.01M424.68 557.72h.01M370 557.49h.01M358.29 569.12h.01M358.84 564.9h.01M368.73 555.45h.01M380.1 543.8h.01M410.31 565.82h.01M412.47 583.4h.01M395.54 568.05h.01M393.72 584.36h.01M391.98 555.88h.01M388.46 579.89h.01M396.76 585.6h.01M372.63 570.91h.01M447.12 565.11h.01M407.07 571.74h.01M449.75 564.81h.01M434.29 544.44h.01M359.7 562.04h.01M403.66 559.98h.01M360.95 570.75h.01M427.06 574.81h.01M392.78 555.57h.01M402.22 568.22h.01M432.98 544.15h.01M381.86 496.7h.01M413.56 567.64h.01M349.92 554.63h.01M438.26 557.26h.01M371.97 590.73h.01M369.6 582.74h.01M361.94 559.58h.01M382.95 537.21h.01M419.57 575.5h.01M372.9 592.1h.01M355.1 562.82h.01M383.05 559.53h.01M350.98 579.35h.01M400.35 555.49h.01M424.46 564.04h.01M380.92 489.23h.01M348.58 573.53h.01M353.55 570.18h.01M448.07 545.38h.01M431.41 535.48h.01M387.75 568.72h.01M372.86 554.59h.01M352.49 549.51h.01M414.75 556.96h.01M430.83 581.25h.01M385.03 541.48h.01M442.75 557.25h.01M431.94 561.77h.01M408.52 526.45h.01M402.25 526.45h.01M399.1 565.86h.01M384.81 559.88h.01M388.82 587.31h.01M411.06 560.76h.01M353.95 557.33h.01M402.89 571.64h.01M357.56 581.22h.01M442.89 557.96h.01M410.18 566.03h.01M369.07 566.29h.01M427.34 560.48h.01M445.52 540.9h.01M445.62 552.42h.01M425.5 558.08h.01M411.89 570.3h.01M406.14 558.36h.01M438.88 576.28h.01M414.34 567.36h.01M422.21 564.97h.01M368.92 553.37h.01M392.21 543.79h.01M403.32 582.85h.01M355.22 575.19h.01M352.02 570h.01M422.54 552.77h.01M439.6 564.76h.01M372.48 572.33h.01M442.82 573.38h.01M432.55 574.01h.01M415.16 562.76h.01M381.6 562.93h.01M383.56 557.41h.01M370.24 568.53h.01M395.79 568.28h.01M374.65 574.43h.01M420.78 591.76h.01M362.42 561.84h.01M410.81 578.84h.01M355.27 567.16h.01M438.11 572.02h.01M376.04 591.39h.01M344 561.96h.01M375.36 548.45h.01M346.34 569.9h.01M403.82 560.71h.01M411.03 539.09h.01M384.27 561.52h.01M431.27 545.25h.01M364.87 558.84h.01M380.53 495.99h.01M428.48 564.43h.01M438.58 540.61h.01M389.24 565.39h.01M367.37 562.59h.01M399.5 550.44h.01M418.94 563.58h.01M430.2 570.94h.01M410.69 550.08h.01M449.55 557.16h.01M353.9 558.59h.01M367.74 581.85h.01M427.16 572.61h.01M411.28 563.92h.01M447.25 558.3h.01M423.68 571.69h.01M363.59 557.32h.01M364.17 554.39h.01M347.91 563.79h.01M400.83 581.1h.01M382.05 495.84h.01M350.51 576.81h.01M358.48 553.47h.01M421.06 532.95h.01M357.73 558.93h.01M421.7 553.52h.01M432.32 584.54h.01M380.05 573.53h.01M357.12 570.97h.01M412.03 563.28h.01M399.07 542.98h.01M372.28 584.71h.01M372.23 587.71h.01M385.94 539.09h.01M367.34 554.96h.01M377.91 570.66h.01M401.57 566.97h.01M384.64 552.35h.01M344.58 568.32h.01M415.39 563.1h.01M369.63 535.12h.01M404.27 580.97h.01M359.21 570.29h.01M426.13 572.74h.01M390.66 566.24h.01M391.91 559.87h.01M360.21 561.87h.01M378.19 587.56h.01M379.07 543.59h.01M397.51 584.11h.01M355.43 558.44h.01M396.28 564.66h.01M359.92 576.75h.01M445.51 554.76h.01M408.69 570.51h.01M377.55 552.16h.01M377 541.21h.01M377.65 564.7h.01M370.89 530.78h.01M448.28 563.53h.01M404.84 576.71h.01M395.75 549.39h.01M440.65 556.03h.01M408.72 585.12h.01M364.71 563.55h.01M439.19 566.92h.01M370.45 564.64h.01M410.62 579.24h.01M377.53 559.36h.01M412.47 581.31h.01M426.71 538.01h.01M441.48 544.91h.01M437.38 576.55h.01M344.41 566.45h.01M366.71 568.83h.01M360.7 582.49h.01M381.31 497h.01M344.41 565.36h.01M394.06 553.79h.01M431.98 540.11h.01M409.93 565.24h.01M399.19 567.43h.01M380.72 496.54h.01M405.52 557.49h.01M375.96 563.07h.01M402.92 551.6h.01M396.46 560.38h.01M399.47 571.11h.01M352.56 575.15h.01M411.79 573.8h.01M431.76 554.07h.01M347.76 559.32h.01M434.55 537.29h.01M398.35 570.58h.01M419.24 557.26h.01M360.45 558.71h.01" fill="none" stroke="#1d6e3c" stroke-width="2.6" stroke-linecap="round"/>
<path d="M464.34 590.76h.01M419.69 467.99h.01M504.72 557h.01M501.49 562.25h.01M503.86 562.31h.01M429.22 475.14h.01M457.75 501.6h.01M451.8 478.76h.01M422.94 488.15h.01M447.52 470.9h.01M501.2 566.09h.01M409.15 478.76h.01M461.67 494.71h.01M440.95 472.55h.01M501.21 556.76h.01M505.32 561.11h.01M434.86 493.21h.01M437.41 470.69h.01M457.95 512.03h.01M508.44 569.71h.01M467.49 597.76h.01M423.57 480.2h.01M468.77 596.04h.01M452.53 515.17h.01M441.13 459.25h.01M497.16 563.58h.01M467.53 598.5h.01M451.66 497.58h.01M441.65 478.75h.01M422.18 475.57h.01M450.44 521.7h.01M456.09 508.06h.01M446.5 519.83h.01M455.37 496.04h.01M457.27 503.58h.01M464.97 592.93h.01M442.53 465.64h.01M455.15 499.87h.01M499.39 561.13h.01M441.75 473.64h.01M496.95 553.18h.01M415.31 464.38h.01M457.32 515.93h.01M415.42 473.51h.01M497.22 554.69h.01M417.07 467.93h.01M506.6 561.81h.01M418.13 475.49h.01M508.34 563.89h.01M459.03 504.19h.01M415.78 464.92h.01M508.32 563.11h.01M427.96 483.09h.01M455.59 517.16h.01M441.47 469.42h.01M460.56 515.18h.01M442.39 513.44h.01M468.21 598.39h.01M432.95 471.6h.01M455.36 502.53h.01M463.38 506.21h.01M459.38 512.95h.01M431.73 484.54h.01M406.01 482.37h.01M439.98 464.16h.01M463.71 598.71h.01M447.58 509.75h.01M411.89 463.88h.01M418.08 465.68h.01M465.77 595.38h.01M458.96 512.09h.01M382.18 488.87h.01M420.82 459.64h.01M463.42 496.02h.01M446.78 550.29h.01M421.75 463.24h.01M449.91 470.67h.01M458.62 510.05h.01M476.88 576.31h.01M441.35 471.45h.01M343.29 553.91h.01M462.57 506.79h.01M506.4 560.34h.01M430.52 466.08h.01M429.84 478.76h.01M419.86 466.42h.01M448.67 502.81h.01M458.94 532.47h.01M425.45 473.7h.01M415.73 481.65h.01M504.68 568.02h.01M500.64 553.56h.01M452.55 513.52h.01M498.98 562.97h.01M443.85 478.6h.01M497.66 559.45h.01M501.03 559.76h.01M417.85 472.16h.01M459.85 497.06h.01M502.33 564.92h.01M437.42 463.02h.01M416.18 464.08h.01M422.32 491.76h.01M466.39 595.83h.01M407.89 526.45h.01M435.34 472.9h.01M423.57 459.25h.01M504.35 562.42h.01M501.69 560.05h.01M420.58 470.14h.01M457.02 521.73h.01M447.87 464.94h.01M465.48 597.67h.01M454.45 511.83h.01M436.74 494.65h.01M495.07 571.97h.01M447.64 474.84h.01M432.01 474.63h.01M417.75 470.6h.01M457.76 508.77h.01M475.63 577.75h.01M452.34 507.39h.01M490.06 553.91h.01M500 565.36h.01M465.7 594.96h.01M449.53 498.71h.01M416.24 467.68h.01M475 597.99h.01M450.87 515.08h.01M446.1 475.64h.01M451.82 519.25h.01M432.01 464.33h.01M448.66 496.1h.01M432.59 473.15h.01M457.44 472.25h.01M449.29 480.35h.01M459.78 512.17h.01M421.92 471.26h.01M426.7 478.94h.01M449.74 499.83h.01M447.49 469.18h.01M501.48 559.58h.01M459.45 500.28h.01M504.14 564.02h.01M446.37 470.4h.01M417.27 468.4h.01M437.68 467.82h.01M498.7 566.2h.01M467.24 595.37h.01M461 510.22h.01M417.73 471.32h.01M506.06 562.04h.01M442.73 473.55h.01M426.08 479.48h.01M453.36 473.7h.01M417.93 480.92h.01M454.3 470.81h.01M418.17 468.2h.01M460.88 510.04h.01M466.07 595.31h.01M438.05 467.08h.01M419.18 458.52h.01M495.7 568.36h.01M413.95 463.45h.01M446.15 504.05h.01M419.58 465.19h.01M498.04 559.2h.01M420.76 462.51h.01M433.99 468.81h.01M449.91 475.68h.01M445.27 476.19h.01M443.33 514.53h.01M467.86 598.08h.01M417.13 465.33h.01M503.84 566h.01M455.72 503.5h.01M456.23 516.24h.01M436.35 472.67h.01M446.15 540.54h.01M443.38 470.31h.01M465.6 600.44h.01M471.87 597.99h.01M435.49 485.98h.01M438.22 472.47h.01M426.71 486.7h.01M467.14 599.03h.01M468.1 600.16h.01M389.7 493.21h.01M458.67 518.59h.01M431.73 480.2h.01M457.07 509h.01M469.13 591.87h.01M431.35 474.12h.01M439.88 457.08h.01M422 483.81h.01M435.83 473.67h.01M455.56 475.14h.01M412.89 472.6h.01M394.72 492.49h.01M491.94 557.52h.01M503.02 566.19h.01M433.61 485.26h.01M468.62 597.1h.01M457.35 510.01h.01M417.46 473.4h.01M462.68 491.91h.01M438.33 469.11h.01M468.49 596.78h.01M473.75 598.71h.01M459.95 493.93h.01M458.82 505.64h.01M439.47 484.31h.01M503.8 559.81h.01M447.44 524.32h.01M424.81 474.03h.01M504.24 559.06h.01M442.94 466.68h.01M497.21 563.09h.01M499.87 561.43h.01M500.6 566.97h.01M465.61 596.7h.01M440.98 466.17h.01M435.44 470.57h.01M469.27 596.62h.01M468.19 596.39h.01M424.25 477.44h.01M435.59 463.44h.01M457.41 524.15h.01M465.61 596.49h.01M421.71 464.69h.01M420.57 468.91h.01M466.22 501.67h.01M468.1 601.6h.01M464.78 505.05h.01M502.28 561.72h.01M499.73 561.03h.01M470.09 595.7h.01M470.73 508.21h.01M466.22 603.77h.01M484.72 550.29h.01M458.43 506h.01M444.74 468.95h.01M444.18 465.97h.01M465.6 597.58h.01M400.99 526.81h.01M439.9 466.88h.01M433.61 489.6h.01M417.53 467.19h.01M441.45 514.16h.01M454.93 479.48h.01M462.82 592.76h.01M448.39 512.49h.01M438.62 472.28h.01M501.94 555.21h.01M504.71 562.88h.01M498.91 560.16h.01M443.02 542.35h.01M445 473.06h.01M459.69 513.66h.01M437.49 462.49h.01" fill="none" stroke="#d9282e" stroke-width="2.6" stroke-linecap="round"/>
<rect x="425.7" y="414.8" width="79.4" height="36.8" fill="#fff" stroke="#000" stroke-width="1.2"/>
<circle cx="433.8" cy="425" r="4.1" fill="#1d6e3c"/><text x="443.5" y="429.5" font-size="13" text-anchor="start">Diploid</text>
<circle cx="433.8" cy="441.4" r="4.1" fill="#d9282e"/><text x="443.5" y="445.9" font-size="13" text-anchor="start">Aneuploid</text>
<circle cx="340.8" cy="593.7" r="0.8" fill="#1d6e3c"/><circle cx="340.8" cy="604.2" r="0.8" fill="#d9282e"/><text x="346.2" y="596.1" font-size="6.6" text-anchor="start">Diploid</text>
<text x="346.2" y="606.6" font-size="6.6" text-anchor="start">Non-diploid</text>
<path d="M594.8 468.64 V610.8 H768.4" fill="none" stroke="#333" stroke-width="0.9"/>
<line x1="612.4" y1="610.8" x2="612.4" y2="614" stroke="#333" stroke-width="0.9"/><text x="610.9" y="629.6" font-size="13" text-anchor="middle">–20</text>
<line x1="643.6" y1="610.8" x2="643.6" y2="614" stroke="#333" stroke-width="0.9"/><text x="642.1" y="629.6" font-size="13" text-anchor="middle">–10</text>
<line x1="674.8" y1="610.8" x2="674.8" y2="614" stroke="#333" stroke-width="0.9"/><text x="674.8" y="629.6" font-size="13" text-anchor="middle">0</text>
<line x1="706" y1="610.8" x2="706" y2="614" stroke="#333" stroke-width="0.9"/><text x="706" y="629.6" font-size="13" text-anchor="middle">10</text>
<line x1="737.2" y1="610.8" x2="737.2" y2="614" stroke="#333" stroke-width="0.9"/><text x="737.2" y="629.6" font-size="13" text-anchor="middle">20</text>
<line x1="768.4" y1="610.8" x2="768.4" y2="614" stroke="#333" stroke-width="0.9"/><text x="768.4" y="629.6" font-size="13" text-anchor="middle">30</text>
<line x1="591.6" y1="577.03" x2="594.8" y2="577.03" stroke="#333" stroke-width="0.9"/><text x="586.8" y="581.63" font-size="13" text-anchor="end">–10</text>
<line x1="591.6" y1="540.9" x2="594.8" y2="540.9" stroke="#333" stroke-width="0.9"/><text x="586.8" y="545.5" font-size="13" text-anchor="end">0</text>
<line x1="591.6" y1="504.77" x2="594.8" y2="504.77" stroke="#333" stroke-width="0.9"/><text x="586.8" y="509.37" font-size="13" text-anchor="end">10</text>
<line x1="591.6" y1="468.64" x2="594.8" y2="468.64" stroke="#333" stroke-width="0.9"/><text x="586.8" y="473.24" font-size="13" text-anchor="end">20</text>
<text x="690.6" y="648.3" font-size="13" text-anchor="middle">Dimension 1</text>
<text transform="translate(556.3 522.5) rotate(-90)" font-size="13" text-anchor="middle">Dimension 2</text>
<path d="M680.72 559.38h.01M649.44 539.34h.01M652.5 547.23h.01M761.78 557h.01M602.42 555.55h.01M715.05 501.6h.01M709.12 478.76h.01M704.86 470.9h.01M698.33 472.55h.01M758.28 556.76h.01M762.37 561.11h.01M692.27 493.21h.01M652.18 568.97h.01M765.48 569.71h.01M671.82 575.79h.01M709.85 515.17h.01M720.98 484.54h.01M624.97 557.1h.01M606.3 562.56h.01M667.28 568.1h.01M651.18 572.83h.01M629.2 561.15h.01M707.77 521.7h.01M692.59 572.46h.01M692.86 552.48h.01M602.94 563.59h.01M713.39 508.06h.01M714.57 503.58h.01M637.36 513.8h.01M662.94 526.09h.01M609.22 558.3h.01M699.13 473.64h.01M754.05 553.18h.01M702.64 556.46h.01M701.92 566.46h.01M658.73 565.29h.01M679.33 561.63h.01M687.85 568.52h.01M650.63 591.15h.01M697.15 575.55h.01M618.84 575.04h.01M621.49 565.43h.01M685.41 483.09h.01M685.27 560.83h.01M712.9 517.16h.01M681.43 562.9h.01M642.52 559h.01M698.85 469.42h.01M717.84 515.18h.01M699.76 513.44h.01M690.37 471.6h.01M712.66 502.53h.01M639.84 567.94h.01M620.75 563.09h.01M654.37 571.99h.01M678.9 588.19h.01M669.09 568.48h.01M697.37 464.16h.01M608.47 557.51h.01M680.38 561.27h.01M704.93 509.75h.01M636.74 516.33h.01M664.07 581.15h.01M614.52 577.34h.01M639.23 504.05h.01M663.06 584.63h.01M654.35 560.67h.01M703.85 545.46h.01M656.6 556.18h.01M623.47 575.04h.01M678.31 459.64h.01M695.08 542.71h.01M618.33 554.05h.01M641.14 496.33h.01M646.74 539.37h.01M628.29 576.75h.01M707.25 470.67h.01M698.73 471.45h.01M613.17 547.6h.01M657.31 587.03h.01M639.49 497.38h.01M719.84 506.79h.01M763.45 560.34h.01M637.98 501.88h.01M603.91 555.45h.01M640.1 497.12h.01M706.01 502.81h.01M716.23 532.47h.01M665.44 542.71h.01M681.18 547.73h.01M757.71 553.56h.01M609.02 575.49h.01M709.87 513.52h.01M647.04 587.81h.01M607.48 563.02h.01M677.51 565h.01M681.89 558.71h.01M701.22 478.6h.01M754.75 559.45h.01M624.48 564.62h.01M666.42 579.67h.01M679.79 571.67h.01M758.11 559.76h.01M624.91 561.03h.01M643.12 570.96h.01M613.77 567.33h.01M759.4 564.92h.01M605.15 557.81h.01M643.73 564.16h.01M679.79 491.76h.01M679.79 498.27h.01M634.98 557.59h.01M676.71 589.03h.01M706.05 548.98h.01M692.75 472.9h.01M607.13 558.41h.01M677.82 570.72h.01M714.32 521.73h.01M705.21 464.94h.01M661.69 563.78h.01M628.52 555.8h.01M675.9 574.66h.01M752.18 571.97h.01M685.95 545.2h.01M668.82 560.25h.01M704.98 474.84h.01M690.29 566.23h.01M663.99 544.29h.01M665.16 590.16h.01M715.05 508.77h.01M682.92 556.8h.01M709.66 507.39h.01M640.04 497.23h.01M688.06 586.04h.01M705.18 568.18h.01M656.08 531.87h.01M699.14 543.79h.01M606.64 565.79h.01M626.37 579.14h.01M698.42 562.19h.01M627.03 557.69h.01M703.12 566.06h.01M605.37 561.31h.01M613.49 575.81h.01M703.45 475.64h.01M709.15 519.25h.01M699.09 563.78h.01M698.91 561.09h.01M689.69 556.6h.01M641.1 490.32h.01M637.5 541.79h.01M662.9 587.24h.01M717.07 512.17h.01M684.16 478.94h.01M704.84 469.18h.01M689.66 559.47h.01M661.24 543.89h.01M618.11 564.12h.01M758.55 559.58h.01M681.79 563.92h.01M617.08 585.54h.01M605.76 571.3h.01M761.19 564.02h.01M654.75 590.09h.01M755.79 566.2h.01M621.11 559.76h.01M724.49 595.37h.01M626.82 565.86h.01M701.32 546.32h.01M678.89 567.12h.01M606.37 557.22h.01M630.91 559.73h.01M647.6 537.87h.01M723.32 595.31h.01M617.4 569.86h.01M752.8 568.36h.01M704.32 550.26h.01M700.08 560.59h.01M701.11 564.23h.01M703.5 504.05h.01M691.41 468.81h.01M703.61 559.91h.01M707.25 475.68h.01M645.63 553.01h.01M760.9 566h.01M713.02 503.5h.01M677.88 573.36h.01M621.97 559.77h.01M645.1 546.2h.01M694.58 565.64h.01M639.57 495.68h.01M607.98 563.94h.01M682.15 557.72h.01M616.64 564.9h.01M695.62 472.47h.01M684.16 486.7h.01M653.15 568.05h.01M646.11 579.89h.01M654.37 585.6h.01M630.36 570.91h.01M704.47 565.11h.01M691.7 544.44h.01M617.49 562.04h.01M715.96 518.59h.01M650.41 555.57h.01M690.4 544.15h.01M714.37 509h.01M671.08 567.64h.01M629.7 590.73h.01M627.34 582.74h.01M688.77 474.12h.01M693.24 473.67h.01M712.86 475.14h.01M681.93 564.04h.01M638.61 489.23h.01M611.37 570.18h.01M705.41 545.38h.01M719.94 491.91h.01M688.26 581.25h.01M642.7 541.48h.01M689.36 561.77h.01M646.47 587.31h.01M668.59 560.76h.01M611.77 557.33h.01M660.46 571.64h.01M615.36 581.22h.01M700.26 557.96h.01M667.72 566.03h.01M717.23 493.93h.01M760.86 559.81h.01M679.69 564.97h.01M626.67 553.37h.01M660.9 582.85h.01M609.85 570h.01M704.79 524.32h.01M696.98 564.76h.01M630.21 572.33h.01M689.97 574.01h.01M639.29 562.93h.01M678.26 591.76h.01M761.3 559.06h.01M700.31 466.68h.01M754.3 563.09h.01M756.95 561.43h.01M633.75 591.39h.01M601.88 561.96h.01M633.08 548.45h.01M757.67 566.97h.01M641.94 561.52h.01M698.36 466.17h.01M692.85 470.57h.01M638.22 495.99h.01M725.43 596.39h.01M687.63 570.94h.01M706.89 557.16h.01M714.7 524.15h.01M668.81 563.92h.01M723.47 501.67h.01M704.6 558.3h.01M681.15 571.69h.01M621.95 554.39h.01M616.28 553.47h.01M678.54 532.95h.01M722.04 505.05h.01M759.34 561.72h.01M669.56 563.28h.01M702.1 468.95h.01M625.1 554.96h.01M602.45 568.32h.01M627.38 535.12h.01M617.01 570.29h.01M649.54 559.87h.01M722.85 597.58h.01M655.12 584.11h.01M613.24 558.44h.01M697.29 466.88h.01M628.62 530.78h.01M705.62 563.53h.01M662.4 576.71h.01M698.04 556.03h.01M622.47 563.55h.01M696.58 566.92h.01M698.82 514.16h.01M712.24 479.48h.01M694.78 576.55h.01M602.28 566.45h.01M696.01 472.28h.01M624.47 568.83h.01M618.49 582.49h.01M639 497h.01M689.41 540.11h.01M660.5 551.6h.01M654.06 560.38h.01M761.76 562.88h.01M755.99 560.16h.01M689.19 554.07h.01M605.61 559.32h.01M691.96 537.29h.01M618.24 558.71h.01" fill="none" stroke="#c9a92b" stroke-width="2.7" stroke-linecap="round"/>
<path d="M688.52 564.11h.01M674.04 582.18h.01M701.85 556.6h.01M611.26 563.11h.01M627.78 578.44h.01M631.71 559.94h.01M674.38 557.18h.01M657.64 527.17h.01M620.89 555.63h.01M679.94 567.22h.01M641.73 586.13h.01M620.35 574.68h.01M638.58 587.34h.01M669.14 598.36h.01M684.62 558.22h.01M665.82 588.3h.01M676.36 533.67h.01M688.66 584.67h.01M656.62 574.94h.01M608.99 566.33h.01M661.12 573.82h.01M655.24 560.68h.01M645.01 555.38h.01M625.9 579.61h.01M603.61 566.41h.01M688.58 569.67h.01M681.73 558.3h.01M679.25 554.54h.01M628 532.95h.01M601.46 556.5h.01M675.63 475.49h.01M631.27 587.75h.01M659.68 538.02h.01M609.68 576.83h.01M680.42 530.78h.01M636.89 587.49h.01M667.07 587.45h.01M621.72 542.93h.01M663.92 540.75h.01M684.34 578.83h.01M690.35 556.03h.01M685.27 563.12h.01M663.06 560.15h.01M647.24 548.86h.01M646.23 542.78h.01M608.64 570.52h.01M648.19 551.16h.01M600.35 562.14h.01M639.36 552.76h.01M686.62 552.89h.01M655.54 537.25h.01M682.59 567.92h.01M601.17 553.91h.01M628 565.87h.01M614.33 564.85h.01M611 574.48h.01M682.6 524.64h.01M664.47 589.58h.01M675.87 574.95h.01M620.95 571.78h.01M689.4 569.39h.01M696.67 557.46h.01M637.87 594.99h.01M688.62 560.43h.01M630.06 568.08h.01M659.7 595.88h.01M717.14 497.06h.01M675.02 540.05h.01M630.54 589.94h.01M621.94 566.58h.01M707.82 565.69h.01M665.44 526.45h.01M635.41 565.48h.01M644.61 573.21h.01M702.61 546.9h.01M637.13 570.92h.01M618.04 560.66h.01M622.05 572.6h.01M695.94 554.27h.01M626.15 580.15h.01M651.37 563.43h.01M641.54 570.08h.01M607.58 561.21h.01M680.87 548.48h.01M686.28 569.58h.01M666.29 576.6h.01M654.29 551.46h.01M661.59 560.41h.01M685 561.82h.01M660.78 575.19h.01M642.25 566.25h.01M679.4 471.26h.01M671.45 589.61h.01M690.23 577.72h.01M653.35 559.79h.01M683.45 549.57h.01M644.58 576.09h.01M649.3 548.27h.01M707.37 567.52h.01M649.95 597.86h.01M668.81 575.73h.01M677.42 581.45h.01M669.7 570.89h.01M658.42 577.82h.01M675.42 480.92h.01M642.46 565.97h.01M638.62 577.58h.01M686.49 554.93h.01M683.53 571.05h.01M670.65 563.15h.01M690.89 552.4h.01M700.78 564.87h.01M687.78 550.62h.01M677.99 548.75h.01M697.2 565.62h.01M627.59 561.56h.01M703.5 540.54h.01M684.13 568.09h.01M627.75 557.49h.01M616.09 569.12h.01M667.85 565.82h.01M651.34 584.36h.01M707.09 564.81h.01M661.23 559.98h.01M618.74 570.75h.01M684.51 574.81h.01M659.8 568.22h.01M607.76 554.63h.01M695.65 557.26h.01M619.73 559.58h.01M612.92 562.82h.01M608.82 579.35h.01M606.43 573.53h.01M700.12 557.25h.01M666.06 526.45h.01M684.79 560.48h.01M702.88 540.9h.01M696.27 576.28h.01M613.04 575.19h.01M680.02 552.77h.01M668.34 578.84h.01M695.5 572.02h.01M604.2 569.9h.01M688.7 545.25h.01M646.89 565.39h.01M657.1 550.44h.01M611.73 558.59h.01M625.49 581.85h.01M722.86 596.49h.01M621.36 557.32h.01M605.77 563.79h.01M658.42 581.1h.01M615.54 558.93h.01M679.18 553.52h.01M689.75 584.54h.01M656.66 542.98h.01M630.01 584.71h.01M643.6 539.09h.01M642.31 552.35h.01M618 561.87h.01M636.77 543.59h.01M658.58 526.81h.01M702.86 554.76h.01M666.26 585.12h.01M691.02 489.6h.01M668.16 579.24h.01M698.85 544.91h.01M651.67 553.79h.01M667.47 565.24h.01M656.78 567.43h.01M663.08 557.49h.01M633.67 563.07h.01M610.39 575.15h.01M700.38 542.35h.01M655.95 570.58h.01" fill="none" stroke="#ef7aa3" stroke-width="2.7" stroke-linecap="round"/>
<path d="M659.48 561.81h.01M721.6 590.76h.01M688.36 571.74h.01M664.27 566.81h.01M676.76 592.61h.01M669.37 575.44h.01M643.17 561.64h.01M669.51 559.78h.01M673.07 564.87h.01M630.43 577.54h.01M697.53 573.34h.01M674.43 565.54h.01M715.24 512.03h.01M649.6 571.76h.01M684.4 581.36h.01M659.46 578.59h.01M693.1 571.23h.01M652.11 549.26h.01M698.51 459.25h.01M631.55 579.8h.01M684.36 554.97h.01M708.99 497.58h.01M686.77 583h.01M672.94 567.21h.01M703.85 519.83h.01M630.59 557.5h.01M673.58 567.87h.01M651.67 558.1h.01M666.72 558.67h.01M660.41 548.65h.01M642 575.32h.01M675.59 574.39h.01M647.07 571.03h.01M660.26 553.72h.01M638.53 557.83h.01M637.36 545.24h.01M698.71 563.33h.01M636.94 559.01h.01M725.45 598.39h.01M671.68 535.48h.01M720.65 506.21h.01M716.67 512.95h.01M651.83 572.48h.01M632.56 554.49h.01M659.25 560.24h.01M660 574.78h.01M695.5 557.54h.01M659.75 560.63h.01M639.86 488.87h.01M648.2 583.04h.01M654.48 570.39h.01M704.13 550.29h.01M675.69 589.6h.01M608 570.1h.01M715.91 510.05h.01M681.08 568.52h.01M623.69 556.85h.01M654.23 566.68h.01M637.16 561.31h.01M616.98 557.68h.01M678.1 554.96h.01M677.11 558.68h.01M641.69 563.6h.01M618.58 572.96h.01M695.09 572.2h.01M639.51 546.27h.01M648.98 560.53h.01M673.24 481.65h.01M653.74 559.27h.01M609.79 557.91h.01M660.39 560.65h.01M613.83 556.47h.01M659.65 541.7h.01M694.82 463.02h.01M723.64 595.83h.01M645.88 561.43h.01M648.73 572.54h.01M702.57 546.84h.01M663.71 567.22h.01M703.07 555.06h.01M649.31 554.79h.01M640.22 558.34h.01M668.09 560.07h.01M694.2 548.25h.01M637.94 498.03h.01M667.81 557.17h.01M606.2 564.69h.01M651.38 573.28h.01M623.54 569.11h.01M666.03 570.5h.01M663.14 589.68h.01M628.92 557.62h.01M637.53 565.29h.01M722.95 594.96h.01M640.62 493.89h.01M624.78 544.43h.01M655.46 538.01h.01M732.21 597.99h.01M708.19 515.08h.01M679.29 566.83h.01M647.4 581.22h.01M663.37 573.01h.01M660.05 562.3h.01M630.44 562.68h.01M707.08 499.83h.01M664.86 571.17h.01M647.15 576.57h.01M635.21 561.25h.01M631.29 572.87h.01M619.66 548.63h.01M662.11 592.75h.01M619 562.42h.01M690.67 556.62h.01M670.97 576.7h.01M674.68 571.66h.01M661.64 580.2h.01M615.27 564.4h.01M689.75 579.2h.01M638.22 561.31h.01M613.22 551.32h.01M632.44 546.28h.01M670 562.29h.01M674.85 580.21h.01M718.16 510.04h.01M676.67 458.52h.01M668.56 561.63h.01M648.89 563.2h.01M645.06 576.3h.01M645.05 569.6h.01M703.19 566.58h.01M670.55 594.62h.01M722.85 600.44h.01M646.72 537.29h.01M637.79 543.8h.01M724.39 599.03h.01M649.61 555.88h.01M725.35 600.16h.01M664.63 571.74h.01M647.34 493.21h.01M689.15 480.2h.01M639.55 496.7h.01M640.62 537.21h.01M677.06 575.5h.01M630.63 592.1h.01M697.26 457.08h.01M640.72 559.53h.01M657.94 555.49h.01M652.34 492.49h.01M691.02 485.26h.01M688.84 535.48h.01M645.4 568.72h.01M630.59 554.59h.01M610.32 549.51h.01M659.82 526.45h.01M656.7 565.86h.01M642.48 559.88h.01M730.96 598.71h.01M626.82 566.29h.01M702.98 552.42h.01M669.42 570.3h.01M663.7 558.36h.01M671.85 567.36h.01M649.84 543.79h.01M641.24 557.41h.01M627.98 568.53h.01M613.09 567.16h.01M661.39 560.71h.01M726.5 596.62h.01M695.97 540.61h.01M676.43 563.58h.01M668.22 550.08h.01M639.73 495.84h.01M727.32 595.7h.01M727.96 508.21h.01M637.74 573.53h.01M614.92 570.97h.01M635.61 570.66h.01M659.15 566.97h.01M672.9 563.1h.01M648.29 566.24h.01M635.89 587.56h.01M653.89 564.66h.01M635.25 552.16h.01M635.35 564.7h.01M653.36 549.39h.01M628.19 564.64h.01M669.99 581.31h.01M684.16 538.01h.01M705.73 512.49h.01M602.28 565.36h.01M638.41 496.54h.01M657.06 571.11h.01M669.31 573.8h.01M676.73 557.26h.01" fill="none" stroke="#4cb7df" stroke-width="2.7" stroke-linecap="round"/>
<path d="M617.52 554.97h.01M758.56 562.25h.01M760.92 562.31h.01M686.66 475.14h.01M621.79 587.24h.01M694.17 560.67h.01M758.28 566.09h.01M646.34 549.64h.01M657.21 562.91h.01M694.81 470.69h.01M724.74 597.76h.01M754.25 563.58h.01M724.77 598.5h.01M637.98 498.23h.01M699.03 478.75h.01M681.66 527.89h.01M623.86 572.25h.01M712.67 496.04h.01M722.22 592.93h.01M699.91 465.64h.01M712.46 499.87h.01M756.47 561.13h.01M672.93 473.51h.01M754.32 554.69h.01M763.64 561.81h.01M689.39 563.27h.01M765.38 563.89h.01M716.32 504.19h.01M765.36 563.11h.01M631.73 568.52h.01M689.15 484.54h.01M642.78 575.41h.01M678.4 561.48h.01M680.67 571.93h.01M716.25 512.09h.01M720.68 496.02h.01M734.08 576.31h.01M632.16 557.81h.01M687.96 466.08h.01M761.73 568.02h.01M756.07 562.97h.01M684.32 571.52h.01M619.49 559.28h.01M679.21 573.01h.01M638.46 497.7h.01M675.35 472.16h.01M656.7 535.48h.01M639.39 496.15h.01M761.4 562.42h.01M758.76 560.05h.01M678.06 470.14h.01M607.77 562.79h.01M639.51 548.02h.01M672.24 541.46h.01M711.76 511.83h.01M667.99 544.42h.01M689.43 474.63h.01M622 563.2h.01M732.83 577.75h.01M747.18 553.91h.01M639.71 496.01h.01M757.08 565.36h.01M706.86 498.71h.01M666.31 542.02h.01M689.44 464.33h.01M706 496.1h.01M690.01 473.15h.01M714.74 472.25h.01M628.54 577.76h.01M706.63 480.35h.01M608.09 574.54h.01M678.05 545.96h.01M689.09 575.65h.01M649.96 537.27h.01M716.73 500.28h.01M661.96 559.05h.01M695.08 467.82h.01M718.28 510.22h.01M635.2 585.98h.01M763.11 562.04h.01M625.96 558.27h.01M700.1 473.55h.01M710.68 473.7h.01M711.62 470.81h.01M755.13 559.2h.01M702.63 476.19h.01M700.7 514.53h.01M725.1 598.08h.01M713.53 516.24h.01M693.75 472.67h.01M700.75 470.31h.01M692.9 485.98h.01M626.48 555.45h.01M670 583.4h.01M726.36 591.87h.01M749.06 557.52h.01M760.08 566.19h.01M725.86 597.1h.01M714.65 510.01h.01M695.72 469.11h.01M725.73 596.78h.01M672.26 556.96h.01M716.11 505.64h.01M696.86 484.31h.01M682.96 558.08h.01M700.19 573.38h.01M672.67 562.76h.01M653.4 568.28h.01M632.37 574.43h.01M620.2 561.84h.01M668.56 539.09h.01M622.64 558.84h.01M685.92 564.43h.01M625.12 562.59h.01M692.99 463.44h.01M684.61 572.61h.01M679.19 464.69h.01M725.34 601.6h.01M608.35 576.81h.01M756.81 561.03h.01M723.47 603.77h.01M741.88 550.29h.01M715.72 506h.01M629.96 587.71h.01M701.54 465.97h.01M661.84 580.97h.01M683.59 572.74h.01M617.71 576.75h.01M666.23 570.51h.01M634.71 541.21h.01M635.23 559.36h.01M720.09 592.76h.01M759 555.21h.01M702.36 473.06h.01M716.97 513.66h.01M694.89 462.49h.01" fill="none" stroke="#3db56a" stroke-width="2.7" stroke-linecap="round"/>
<path d="M677.17 467.99h.01M680.42 488.15h.01M666.69 478.76h.01M718.94 494.71h.01M681.04 480.2h.01M726.01 596.04h.01M679.65 475.57h.01M672.82 464.38h.01M714.62 515.93h.01M674.57 467.93h.01M673.29 464.92h.01M663.57 482.37h.01M720.98 598.71h.01M669.42 463.88h.01M675.57 465.68h.01M723.02 595.38h.01M679.23 463.24h.01M687.28 478.76h.01M677.35 466.42h.01M682.91 473.7h.01M673.69 464.08h.01M681.04 459.25h.01M722.74 597.67h.01M694.14 494.65h.01M675.25 470.6h.01M673.75 467.68h.01M703.72 470.4h.01M674.77 468.4h.01M675.23 471.32h.01M683.54 479.48h.01M675.67 468.2h.01M695.45 467.08h.01M671.47 463.45h.01M677.07 465.19h.01M678.24 462.51h.01M674.63 465.33h.01M729.09 597.99h.01M679.48 483.81h.01M670.41 472.6h.01M674.96 473.4h.01M682.27 474.03h.01M722.86 596.7h.01M681.71 477.44h.01M678.06 468.91h.01M675.03 467.19h.01" fill="none" stroke="#b98fc9" stroke-width="2.7" stroke-linecap="round"/>
<rect x="752.5" y="414.7" width="116.3" height="89" fill="#fff" stroke="#000" stroke-width="1.2"/>
<circle cx="760.6" cy="428.3" r="4.1" fill="#c9a92b"/><text x="770.3" y="432.8" font-size="13" text-anchor="start">HGS-1-R2_T</text>
<circle cx="760.6" cy="444.2" r="4.1" fill="#4cb7df"/><text x="770.3" y="448.7" font-size="13" text-anchor="start">HGS-1-R2_O</text>
<circle cx="760.6" cy="460.3" r="4.1" fill="#3db56a"/><text x="770.3" y="464.8" font-size="13" text-anchor="start">HGS-1-R3_T</text>
<circle cx="760.6" cy="476.5" r="4.1" fill="#ef7aa3"/><text x="770.3" y="481" font-size="13" text-anchor="start">HGS-1-R3_O</text>
<circle cx="760.6" cy="492.4" r="4.1" fill="#b98fc9"/><text x="770.3" y="496.9" font-size="13" text-anchor="start">HGS-1-R3_O-s</text>
</g>
<g><path d="M170.2 708 H129.8 V767 H170.2 M129.8 737.3 H73.2 V854.4 H170.2 M73.2 781.7 H54 V885.3 H170.2" fill="none" stroke="#333" stroke-width="0.9"/>
<path d="M75.8 922.6 H170.2 M75.8 922.6 v7 M107.5 922.6 v7 M139 922.6 v7 M170.2 922.6 v7" fill="none" stroke="#222" stroke-width="1.1"/>
<text x="75.8" y="943.2" font-size="13" text-anchor="middle">600</text>
<text x="107.5" y="943.2" font-size="13" text-anchor="middle">400</text>
<text x="139" y="943.2" font-size="13" text-anchor="middle">200</text>
<text x="170.2" y="943.2" font-size="13" text-anchor="middle">0</text>
<text x="123.5" y="961.9" font-size="13" text-anchor="middle">Distance</text>
<defs><filter id="hb" x="-0.02" y="0" width="1.04" height="1" filterUnits="objectBoundingBox"><feGaussianBlur stdDeviation="1.2 0"/></filter><filter id="hs" x="0" y="0" width="1" height="1"><feTurbulence type="fractalNoise" baseFrequency="0.005 0.9" numOctaves="2" seed="4"/><feColorMatrix type="matrix" values="0 0 0 0 1  0 0 0 0 1  0 0 0 0 1  1.25 0 0 0 -0.52"/></filter><filter id="hr" x="0" y="0" width="1" height="1"><feTurbulence type="fractalNoise" baseFrequency="0.012 0.85" numOctaves="2" seed="9"/><feColorMatrix type="matrix" values="0 0 0 0 0.72  0 0 0 0 0.25  0 0 0 0 0.25  0 2.0 0 0 -1.22"/></filter><filter id="hu" x="0" y="0" width="1" height="1"><feTurbulence type="fractalNoise" baseFrequency="0.012 0.85" numOctaves="2" seed="23"/><feColorMatrix type="matrix" values="0 0 0 0 0.38  0 0 0 0 0.38  0 0 0 0 0.75  0 0 2.2 0 -1.3"/></filter><clipPath id="hc"><rect x="186.8" y="677.2" width="507.1" height="219.8"/></clipPath></defs>
<g clip-path="url(#hc)"><g filter="url(#hb)"><rect x="180.8" y="677.2" width="519.1" height="219.8" fill="#fff"/><rect x="186.8" y="677.2" width="10.9" height="66.5" fill="#e6e6f5"/><rect x="186.8" y="743.5" width="10.9" height="38.2" fill="#f0d4d2"/><rect x="186.8" y="781.5" width="10.9" height="58.9" fill="#eeeef8"/><rect x="186.8" y="840.2" width="10.9" height="37.5" fill="#eccbc9"/><rect x="186.8" y="877.5" width="10.9" height="19.7" fill="#fefcfc"/><rect x="197.5" y="677.2" width="9" height="66.5" fill="#e5b7b4"/><rect x="197.5" y="743.5" width="9" height="38.2" fill="#e5b7b4"/><rect x="197.5" y="781.5" width="9" height="58.9" fill="#e5b7b4"/><rect x="197.5" y="840.2" width="9" height="37.5" fill="#e5b7b4"/><rect x="197.5" y="877.5" width="9" height="19.7" fill="#fdf8f8"/><rect x="209.8" y="677.2" width="9.6" height="66.5" fill="#7373c6"/><rect x="209.8" y="743.5" width="9.6" height="38.2" fill="#8484cd"/><rect x="209.8" y="781.5" width="9.6" height="58.9" fill="#7373c6"/><rect x="209.8" y="840.2" width="9.6" height="37.5" fill="#7e7ecb"/><rect x="209.8" y="877.5" width="9.6" height="19.7" fill="#7e7ecb"/><rect x="221" y="677.2" width="7.1" height="66.5" fill="#e5b7b4"/><rect x="221" y="743.5" width="7.1" height="38.2" fill="#e2aca9"/><rect x="221" y="781.5" width="7.1" height="58.9" fill="#e5b7b4"/><rect x="221" y="840.2" width="7.1" height="37.5" fill="#e9c1bf"/><rect x="221" y="877.5" width="7.1" height="19.7" fill="#fefcfc"/><rect x="227.9" y="677.2" width="31.3" height="66.5" fill="#f2f2fa"/><rect x="227.9" y="743.5" width="31.3" height="38.2" fill="#fbfbfd"/><rect x="227.9" y="781.5" width="31.3" height="58.9" fill="#fcfcfe"/><rect x="227.9" y="840.2" width="31.3" height="37.5" fill="#eeeef8"/><rect x="259" y="677.2" width="10.2" height="66.5" fill="#e9c1bf"/><rect x="259" y="743.5" width="10.2" height="38.2" fill="#e9c1bf"/><rect x="259" y="781.5" width="10.2" height="58.9" fill="#e9c1bf"/><rect x="259" y="840.2" width="10.2" height="37.5" fill="#eccbc9"/><rect x="259" y="877.5" width="10.2" height="19.7" fill="#e9c1bf"/><rect x="269" y="677.2" width="16.2" height="66.5" fill="#f5f5fb"/><rect x="269" y="743.5" width="16.2" height="38.2" fill="#f5f5fb"/><rect x="269" y="781.5" width="16.2" height="58.9" fill="#f5f5fb"/><rect x="269" y="840.2" width="16.2" height="37.5" fill="#e6e6f5"/><rect x="269" y="877.5" width="16.2" height="19.7" fill="#fbfbfd"/><rect x="285" y="677.2" width="17.3" height="66.5" fill="#6868c2"/><rect x="285" y="743.5" width="17.3" height="38.2" fill="#6868c2"/><rect x="285" y="781.5" width="17.3" height="58.9" fill="#6868c2"/><rect x="285" y="840.2" width="17.3" height="37.5" fill="#7373c6"/><rect x="285" y="877.5" width="17.3" height="19.7" fill="#7e7ecb"/><rect x="302.1" y="677.2" width="20.6" height="66.5" fill="#e1aaa7"/><rect x="302.1" y="743.5" width="20.6" height="38.2" fill="#f2f2fa"/><rect x="302.1" y="781.5" width="20.6" height="58.9" fill="#f7f7fc"/><rect x="302.1" y="840.2" width="20.6" height="37.5" fill="#eeeef8"/><rect x="302.1" y="877.5" width="20.6" height="19.7" fill="#fdf8f8"/><rect x="322.5" y="677.2" width="7" height="66.5" fill="#e1aaa7"/><rect x="322.5" y="743.5" width="7" height="38.2" fill="#f2f2fa"/><rect x="322.5" y="781.5" width="7" height="58.9" fill="#f7f7fc"/><rect x="322.5" y="840.2" width="7" height="37.5" fill="#eeeef8"/><rect x="322.5" y="877.5" width="7" height="19.7" fill="#b1b1df"/><rect x="329.3" y="677.2" width="4.4" height="66.5" fill="#be4841"/><rect x="329.3" y="743.5" width="4.4" height="38.2" fill="#be4841"/><rect x="329.3" y="781.5" width="4.4" height="58.9" fill="#be4841"/><rect x="329.3" y="840.2" width="4.4" height="37.5" fill="#be4841"/><rect x="329.3" y="877.5" width="4.4" height="19.7" fill="#c3564f"/><rect x="333.5" y="677.2" width="21.7" height="66.5" fill="#d6d6ee"/><rect x="333.5" y="743.5" width="21.7" height="38.2" fill="#b1b1df"/><rect x="333.5" y="781.5" width="21.7" height="58.9" fill="#e6e6f5"/><rect x="333.5" y="840.2" width="21.7" height="37.5" fill="#e5b7b4"/><rect x="333.5" y="877.5" width="21.7" height="19.7" fill="#b1b1df"/><rect x="355" y="677.2" width="9.3" height="66.5" fill="#dedef2"/><rect x="355" y="743.5" width="9.3" height="38.2" fill="#bbbbe3"/><rect x="355" y="781.5" width="9.3" height="58.9" fill="#f5f5fb"/><rect x="355" y="877.5" width="9.3" height="19.7" fill="#d6d6ee"/><rect x="364.1" y="677.2" width="11.6" height="66.5" fill="#fbfbfd"/><rect x="364.1" y="743.5" width="11.6" height="38.2" fill="#eccbc9"/><rect x="364.1" y="840.2" width="11.6" height="37.5" fill="#fefcfc"/><rect x="364.1" y="877.5" width="11.6" height="19.7" fill="#f5f5fb"/><rect x="375.5" y="677.2" width="17.3" height="66.5" fill="#e1aaa7"/><rect x="375.5" y="743.5" width="17.3" height="38.2" fill="#e1aaa7"/><rect x="375.5" y="781.5" width="17.3" height="58.9" fill="#e1aaa7"/><rect x="375.5" y="840.2" width="17.3" height="37.5" fill="#e5b7b4"/><rect x="392.6" y="677.2" width="8.6" height="66.5" fill="#fbfbfd"/><rect x="392.6" y="840.2" width="8.6" height="37.5" fill="#e9c1bf"/><rect x="404.4" y="677.2" width="13.1" height="66.5" fill="#7e7ecb"/><rect x="404.4" y="743.5" width="13.1" height="38.2" fill="#7e7ecb"/><rect x="404.4" y="781.5" width="13.1" height="58.9" fill="#7373c6"/><rect x="404.4" y="840.2" width="13.1" height="37.5" fill="#9393d3"/><rect x="404.4" y="877.5" width="13.1" height="19.7" fill="#a7a7db"/><rect x="417.3" y="677.2" width="2.1" height="66.5" fill="#f5f5fb"/><rect x="417.3" y="743.5" width="2.1" height="38.2" fill="#f5f5fb"/><rect x="417.3" y="781.5" width="2.1" height="58.9" fill="#f5f5fb"/><rect x="417.3" y="840.2" width="2.1" height="37.5" fill="#f5f5fb"/><rect x="417.3" y="877.5" width="2.1" height="19.7" fill="#f5f5fb"/><rect x="419.2" y="677.2" width="13.6" height="66.5" fill="#fbfbfd"/><rect x="419.2" y="743.5" width="13.6" height="38.2" fill="#f5f5fb"/><rect x="419.2" y="781.5" width="13.6" height="58.9" fill="#fbfbfd"/><rect x="419.2" y="840.2" width="13.6" height="37.5" fill="#e6e6f5"/><rect x="432.6" y="677.2" width="10.7" height="66.5" fill="#8989cf"/><rect x="432.6" y="743.5" width="10.7" height="38.2" fill="#8989cf"/><rect x="432.6" y="781.5" width="10.7" height="58.9" fill="#8989cf"/><rect x="432.6" y="840.2" width="10.7" height="37.5" fill="#cdcdeb"/><rect x="432.6" y="877.5" width="10.7" height="19.7" fill="#9d9dd7"/><rect x="443.1" y="677.2" width="7.1" height="66.5" fill="#dfa6a2"/><rect x="443.1" y="743.5" width="7.1" height="38.2" fill="#dfa6a2"/><rect x="443.1" y="781.5" width="7.1" height="58.9" fill="#dfa6a2"/><rect x="443.1" y="840.2" width="7.1" height="37.5" fill="#eccbc9"/><rect x="443.1" y="877.5" width="7.1" height="19.7" fill="#f0d4d2"/><rect x="452.5" y="677.2" width="14.8" height="66.5" fill="#dea19d"/><rect x="452.5" y="743.5" width="14.8" height="38.2" fill="#dea19d"/><rect x="452.5" y="781.5" width="14.8" height="58.9" fill="#dea19d"/><rect x="452.5" y="840.2" width="14.8" height="37.5" fill="#e9c1bf"/><rect x="452.5" y="877.5" width="14.8" height="19.7" fill="#e2aca9"/><rect x="467.1" y="677.2" width="10.1" height="66.5" fill="#f6e5e4"/><rect x="467.1" y="743.5" width="10.1" height="38.2" fill="#e9c1bf"/><rect x="467.1" y="781.5" width="10.1" height="58.9" fill="#fefcfc"/><rect x="467.1" y="840.2" width="10.1" height="37.5" fill="#f5f5fb"/><rect x="477" y="677.2" width="13.1" height="66.5" fill="#e9c1bf"/><rect x="477" y="743.5" width="13.1" height="38.2" fill="#e9c1bf"/><rect x="477" y="781.5" width="13.1" height="58.9" fill="#e9c1bf"/><rect x="477" y="840.2" width="13.1" height="37.5" fill="#f5f5fb"/><rect x="489.9" y="677.2" width="6.3" height="66.5" fill="#eccbc9"/><rect x="489.9" y="743.5" width="6.3" height="38.2" fill="#eccbc9"/><rect x="489.9" y="781.5" width="6.3" height="58.9" fill="#eccbc9"/><rect x="489.9" y="840.2" width="6.3" height="37.5" fill="#fbfbfd"/><rect x="496" y="677.2" width="17" height="66.5" fill="#f5f5fb"/><rect x="496" y="743.5" width="17" height="38.2" fill="#fbfbfd"/><rect x="496" y="781.5" width="17" height="58.9" fill="#fefefe"/><rect x="496" y="840.2" width="17" height="37.5" fill="#f5f5fb"/><rect x="512.8" y="677.2" width="9.4" height="66.5" fill="#b1b1df"/><rect x="512.8" y="743.5" width="9.4" height="38.2" fill="#bbbbe3"/><rect x="512.8" y="781.5" width="9.4" height="58.9" fill="#bbbbe3"/><rect x="512.8" y="840.2" width="9.4" height="37.5" fill="#dedef2"/><rect x="512.8" y="877.5" width="9.4" height="19.7" fill="#d6d6ee"/><rect x="522" y="677.2" width="13.2" height="66.5" fill="#d6d6ee"/><rect x="522" y="743.5" width="13.2" height="38.2" fill="#dedef2"/><rect x="522" y="781.5" width="13.2" height="58.9" fill="#dedef2"/><rect x="522" y="840.2" width="13.2" height="37.5" fill="#eeeef8"/><rect x="522" y="877.5" width="13.2" height="19.7" fill="#eeeef8"/><rect x="535" y="677.2" width="6.2" height="66.5" fill="#d6d6ee"/><rect x="535" y="743.5" width="6.2" height="38.2" fill="#e6e6f5"/><rect x="535" y="781.5" width="6.2" height="58.9" fill="#e6e6f5"/><rect x="535" y="840.2" width="6.2" height="37.5" fill="#f5f5fb"/><rect x="535" y="877.5" width="6.2" height="19.7" fill="#f5f5fb"/><rect x="541" y="677.2" width="4" height="66.5" fill="#f8eceb"/><rect x="541" y="743.5" width="4" height="38.2" fill="#f6e5e4"/><rect x="541" y="781.5" width="4" height="58.9" fill="#fbf2f2"/><rect x="541" y="840.2" width="4" height="37.5" fill="#c3564f"/><rect x="541" y="877.5" width="4" height="19.7" fill="#c3564f"/><rect x="544.8" y="677.2" width="3.4" height="66.5" fill="#f8eceb"/><rect x="544.8" y="743.5" width="3.4" height="38.2" fill="#f6e5e4"/><rect x="544.8" y="781.5" width="3.4" height="58.9" fill="#fbf2f2"/><rect x="548" y="677.2" width="6.4" height="66.5" fill="#eeeef8"/><rect x="548" y="743.5" width="6.4" height="38.2" fill="#f5f5fb"/><rect x="548" y="781.5" width="6.4" height="58.9" fill="#f5f5fb"/><rect x="548" y="840.2" width="6.4" height="37.5" fill="#fbfbfd"/><rect x="548" y="877.5" width="6.4" height="19.7" fill="#fbfbfd"/><rect x="554.2" y="677.2" width="17.8" height="66.5" fill="#d6d6ee"/><rect x="554.2" y="743.5" width="17.8" height="38.2" fill="#eeeef8"/><rect x="554.2" y="781.5" width="17.8" height="58.9" fill="#e6e6f5"/><rect x="554.2" y="840.2" width="17.8" height="37.5" fill="#a7a7db"/><rect x="554.2" y="877.5" width="17.8" height="19.7" fill="#d6d6ee"/><rect x="571.8" y="677.2" width="17.4" height="66.5" fill="#e9c1bf"/><rect x="571.8" y="743.5" width="17.4" height="38.2" fill="#f8eceb"/><rect x="571.8" y="781.5" width="17.4" height="58.9" fill="#fbf2f2"/><rect x="571.8" y="840.2" width="17.4" height="37.5" fill="#fffefe"/><rect x="571.8" y="877.5" width="17.4" height="19.7" fill="#f8eceb"/><rect x="589" y="840.2" width="8.1" height="37.5" fill="#f5f5fb"/><rect x="596.9" y="677.2" width="7.3" height="66.5" fill="#e5b7b4"/><rect x="596.9" y="743.5" width="7.3" height="38.2" fill="#f0d4d2"/><rect x="596.9" y="781.5" width="7.3" height="58.9" fill="#e9c1bf"/><rect x="596.9" y="840.2" width="7.3" height="37.5" fill="#f3dddb"/><rect x="596.9" y="877.5" width="7.3" height="19.7" fill="#f0d4d2"/><rect x="604" y="677.2" width="6" height="66.5" fill="#eeeef8"/><rect x="604" y="743.5" width="6" height="38.2" fill="#eeeef8"/><rect x="604" y="781.5" width="6" height="58.9" fill="#eeeef8"/><rect x="604" y="840.2" width="6" height="37.5" fill="#f5f5fb"/><rect x="604" y="877.5" width="6" height="19.7" fill="#f5f5fb"/><rect x="609.8" y="677.2" width="6.8" height="66.5" fill="#a7a7db"/><rect x="609.8" y="743.5" width="6.8" height="38.2" fill="#b1b1df"/><rect x="609.8" y="781.5" width="6.8" height="58.9" fill="#a7a7db"/><rect x="609.8" y="840.2" width="6.8" height="37.5" fill="#cdcdeb"/><rect x="609.8" y="877.5" width="6.8" height="19.7" fill="#b1b1df"/><rect x="616.4" y="677.2" width="3" height="66.5" fill="#be4841"/><rect x="616.4" y="743.5" width="3" height="38.2" fill="#be4841"/><rect x="616.4" y="781.5" width="3" height="58.9" fill="#be4841"/><rect x="616.4" y="840.2" width="3" height="37.5" fill="#e5b7b4"/><rect x="616.4" y="877.5" width="3" height="19.7" fill="#e5b7b4"/><rect x="619.2" y="677.2" width="11.8" height="66.5" fill="#cdcdeb"/><rect x="619.2" y="743.5" width="11.8" height="38.2" fill="#d6d6ee"/><rect x="619.2" y="781.5" width="11.8" height="58.9" fill="#c4c4e7"/><rect x="619.2" y="840.2" width="11.8" height="37.5" fill="#e6e6f5"/><rect x="619.2" y="877.5" width="11.8" height="19.7" fill="#d6d6ee"/><rect x="634.4" y="677.2" width="4.4" height="66.5" fill="#9d9dd7"/><rect x="634.4" y="743.5" width="4.4" height="38.2" fill="#9d9dd7"/><rect x="634.4" y="781.5" width="4.4" height="58.9" fill="#9d9dd7"/><rect x="634.4" y="840.2" width="4.4" height="37.5" fill="#9d9dd7"/><rect x="634.4" y="877.5" width="4.4" height="19.7" fill="#9d9dd7"/><rect x="640.2" y="677.2" width="11.2" height="66.5" fill="#5151b9"/><rect x="640.2" y="743.5" width="11.2" height="38.2" fill="#5151b9"/><rect x="640.2" y="781.5" width="11.2" height="58.9" fill="#5151b9"/><rect x="640.2" y="840.2" width="11.2" height="37.5" fill="#5151b9"/><rect x="640.2" y="877.5" width="11.2" height="19.7" fill="#5151b9"/><rect x="651.2" y="677.2" width="4" height="66.5" fill="#f5f5fb"/><rect x="651.2" y="743.5" width="4" height="38.2" fill="#f5f5fb"/><rect x="651.2" y="781.5" width="4" height="58.9" fill="#f5f5fb"/><rect x="651.2" y="840.2" width="4" height="37.5" fill="#f5f5fb"/><rect x="651.2" y="877.5" width="4" height="19.7" fill="#f5f5fb"/><rect x="655" y="677.2" width="5.2" height="66.5" fill="#c4c4e7"/><rect x="655" y="743.5" width="5.2" height="38.2" fill="#c4c4e7"/><rect x="655" y="781.5" width="5.2" height="58.9" fill="#c4c4e7"/><rect x="655" y="840.2" width="5.2" height="37.5" fill="#c4c4e7"/><rect x="655" y="877.5" width="5.2" height="19.7" fill="#c4c4e7"/><rect x="660" y="677.2" width="7.6" height="66.5" fill="#fefcfc"/><rect x="660" y="743.5" width="7.6" height="38.2" fill="#fefcfc"/><rect x="660" y="781.5" width="7.6" height="58.9" fill="#fefcfc"/><rect x="660" y="840.2" width="7.6" height="37.5" fill="#fefcfc"/><rect x="660" y="877.5" width="7.6" height="19.7" fill="#fefcfc"/><rect x="667.4" y="677.2" width="4.8" height="66.5" fill="#cc706b"/><rect x="667.4" y="743.5" width="4.8" height="38.2" fill="#cc706b"/><rect x="667.4" y="781.5" width="4.8" height="58.9" fill="#cc706b"/><rect x="667.4" y="840.2" width="4.8" height="37.5" fill="#d58a85"/><rect x="667.4" y="877.5" width="4.8" height="19.7" fill="#cc706b"/><rect x="672" y="677.2" width="22.1" height="66.5" fill="#c96660"/><rect x="672" y="743.5" width="22.1" height="38.2" fill="#c96660"/><rect x="672" y="781.5" width="22.1" height="58.9" fill="#c96660"/><rect x="672" y="840.2" width="22.1" height="37.5" fill="#d48580"/><rect x="672" y="877.5" width="22.1" height="19.7" fill="#c96660"/></g>
<rect x="186.8" y="677.2" width="507.1" height="219.8" fill="#fff" filter="url(#hs)"/><rect x="186.8" y="677.2" width="507.1" height="219.8" fill="#fff" filter="url(#hr)"/><rect x="186.8" y="677.2" width="507.1" height="219.8" fill="#fff" filter="url(#hu)"/>
<rect x="618.2" y="776.45" width="33.8" height="1.0" fill="#6a6ac2" opacity="0.26"/><rect x="641.82" y="781.56" width="10.18" height="1.0" fill="#fff" opacity="0.63"/><rect x="640" y="816.2" width="27.4" height="0.6" fill="#c0504a" opacity="0.3"/><rect x="605.35" y="813.73" width="12.85" height="0.8" fill="#fff" opacity="0.36"/><rect x="630.8" y="748.93" width="9.2" height="1.0" fill="#c0504a" opacity="0.27"/><rect x="652" y="696.25" width="15.4" height="0.6" fill="#c0504a" opacity="0.38"/><rect x="489.9" y="832.21" width="22.9" height="0.6" fill="#fff" opacity="0.55"/><rect x="467.67" y="765.11" width="67.33" height="0.6" fill="#c0504a" opacity="0.2"/><rect x="667.4" y="780.3" width="26.5" height="1.0" fill="#c0504a" opacity="0.2"/><rect x="300.09" y="736.59" width="33.41" height="0.6" fill="#6a6ac2" opacity="0.24"/><rect x="186.8" y="832.04" width="41.1" height="0.6" fill="#c0504a" opacity="0.32"/><rect x="392.6" y="775.37" width="26.6" height="0.6" fill="#fff" opacity="0.49"/><rect x="630.8" y="677.8" width="21.2" height="1.0" fill="#fff" opacity="0.42"/><rect x="302.1" y="817.81" width="31.4" height="1.0" fill="#fff" opacity="0.44"/><rect x="470.16" y="749.51" width="64.84" height="1.0" fill="#c0504a" opacity="0.21"/><rect x="648.05" y="758.18" width="19.35" height="0.8" fill="#6a6ac2" opacity="0.24"/><rect x="333.5" y="717.61" width="59.1" height="0.6" fill="#6a6ac2" opacity="0.27"/><rect x="652" y="712.3" width="8" height="0.6" fill="#fff" opacity="0.52"/><rect x="317.21" y="769.7" width="16.29" height="0.8" fill="#fff" opacity="0.6"/><rect x="642.4" y="769.56" width="25" height="0.6" fill="#c0504a" opacity="0.17"/><rect x="655.67" y="782.33" width="4.33" height="0.8" fill="#fff" opacity="0.36"/><rect x="422.57" y="767.51" width="20.53" height="0.6" fill="#c0504a" opacity="0.39"/><rect x="571.8" y="756.76" width="32.2" height="0.6" fill="#c0504a" opacity="0.3"/><rect x="186.8" y="806.47" width="115.3" height="0.6" fill="#c0504a" opacity="0.39"/><rect x="283.79" y="808.32" width="80.31" height="0.8" fill="#fff" opacity="0.38"/><rect x="227.9" y="796.91" width="41.1" height="1.0" fill="#6a6ac2" opacity="0.31"/><rect x="269" y="781.02" width="95.1" height="0.6" fill="#fff" opacity="0.52"/><rect x="535" y="814.13" width="54" height="1.0" fill="#c0504a" opacity="0.17"/><rect x="443.1" y="702.93" width="69.7" height="1.0" fill="#fff" opacity="0.61"/><rect x="571.8" y="777.63" width="17.2" height="0.6" fill="#c0504a" opacity="0.23"/><rect x="419.2" y="782.69" width="23.9" height="0.8" fill="#c0504a" opacity="0.38"/><rect x="525.46" y="873.39" width="28.74" height="0.8" fill="#c0504a" opacity="0.34"/><rect x="571.8" y="821.78" width="46.4" height="0.6" fill="#fff" opacity="0.58"/><rect x="400.36" y="816.14" width="18.84" height="0.8" fill="#fff" opacity="0.4"/><rect x="227.9" y="754.27" width="41.1" height="0.8" fill="#fff" opacity="0.41"/><rect x="411.97" y="780.6" width="55.13" height="1.0" fill="#c0504a" opacity="0.33"/><rect x="279.06" y="776.48" width="23.04" height="0.8" fill="#c0504a" opacity="0.22"/><rect x="630.8" y="745.16" width="9.2" height="0.8" fill="#c0504a" opacity="0.2"/><rect x="333.5" y="729.53" width="30.6" height="1.0" fill="#fff" opacity="0.39"/><rect x="512.8" y="820.7" width="22.2" height="0.6" fill="#fff" opacity="0.52"/><rect x="591.04" y="833.61" width="12.96" height="1.0" fill="#fff" opacity="0.59"/><rect x="364.1" y="786.94" width="79" height="0.8" fill="#c0504a" opacity="0.21"/><rect x="535" y="881.29" width="19.2" height="0.6" fill="#fff" opacity="0.66"/><rect x="630.8" y="759.96" width="21.2" height="1.0" fill="#c0504a" opacity="0.2"/><rect x="655.6" y="866.78" width="4.4" height="1.0" fill="#6a6ac2" opacity="0.49"/><rect x="489.9" y="890.92" width="45.1" height="0.6" fill="#6a6ac2" opacity="0.3"/><rect x="489.9" y="685.81" width="64.3" height="0.6" fill="#c0504a" opacity="0.16"/><rect x="227.9" y="771.34" width="41.1" height="0.8" fill="#c0504a" opacity="0.38"/><rect x="604" y="710.16" width="36" height="0.6" fill="#c0504a" opacity="0.39"/><rect x="571.8" y="843.14" width="32.2" height="1.0" fill="#c0504a" opacity="0.19"/><rect x="622.36" y="861.86" width="17.64" height="0.6" fill="#6a6ac2" opacity="0.47"/><rect x="333.5" y="744.16" width="59.1" height="1.0" fill="#fff" opacity="0.54"/><rect x="535" y="678.78" width="19.2" height="1.0" fill="#fff" opacity="0.67"/><rect x="630.8" y="852.57" width="9.2" height="1.0" fill="#c0504a" opacity="0.17"/><rect x="544.07" y="777.89" width="27.73" height="0.8" fill="#fff" opacity="0.67"/><rect x="302.1" y="792.3" width="31.4" height="1.0" fill="#fff" opacity="0.44"/><rect x="191.47" y="847.82" width="36.43" height="0.8" fill="#c0504a" opacity="0.23"/><rect x="589" y="731.07" width="15" height="1.0" fill="#c0504a" opacity="0.36"/><rect x="416.18" y="732.4" width="50.92" height="1.0" fill="#6a6ac2" opacity="0.38"/><rect x="652" y="722.29" width="8" height="0.6" fill="#6a6ac2" opacity="0.38"/><rect x="652" y="728.49" width="15.4" height="0.6" fill="#fff" opacity="0.46"/><rect x="395.78" y="725.32" width="23.42" height="0.6" fill="#c0504a" opacity="0.21"/><rect x="559.73" y="772.62" width="12.07" height="1.0" fill="#6a6ac2" opacity="0.23"/><rect x="512.8" y="826.66" width="22.2" height="1.0" fill="#c0504a" opacity="0.24"/><rect x="270.78" y="859.53" width="93.32" height="1.0" fill="#c0504a" opacity="0.28"/><rect x="394.89" y="782.76" width="24.31" height="1.0" fill="#fff" opacity="0.45"/><rect x="227.9" y="698.49" width="41.1" height="0.8" fill="#c0504a" opacity="0.34"/><rect x="554.2" y="763.03" width="34.8" height="1.0" fill="#c0504a" opacity="0.15"/><rect x="392.6" y="686.62" width="26.6" height="0.6" fill="#fff" opacity="0.48"/><rect x="303.43" y="809.74" width="30.07" height="1.0" fill="#6a6ac2" opacity="0.46"/><rect x="630.8" y="882.81" width="9.2" height="0.8" fill="#6a6ac2" opacity="0.44"/><rect x="302.1" y="738.72" width="31.4" height="1.0" fill="#c0504a" opacity="0.37"/><rect x="554.2" y="829.37" width="17.6" height="0.8" fill="#c0504a" opacity="0.17"/><rect x="302.1" y="743.56" width="31.4" height="0.6" fill="#6a6ac2" opacity="0.47"/><rect x="671.18" y="728.37" width="22.72" height="0.8" fill="#c0504a" opacity="0.28"/><rect x="589" y="790.06" width="15" height="0.6" fill="#6a6ac2" opacity="0.49"/><rect x="308.4" y="702.75" width="25.1" height="0.8" fill="#fff" opacity="0.42"/><rect x="451.08" y="680.05" width="38.82" height="1.0" fill="#c0504a" opacity="0.25"/><rect x="302.1" y="801.69" width="90.5" height="0.6" fill="#fff" opacity="0.56"/><rect x="364.1" y="762.06" width="79" height="1.0" fill="#fff" opacity="0.52"/><rect x="554.2" y="807.93" width="49.8" height="0.8" fill="#c0504a" opacity="0.3"/><rect x="589" y="793.49" width="29.2" height="0.8" fill="#fff" opacity="0.6"/><rect x="419.2" y="683.56" width="23.9" height="0.6" fill="#c0504a" opacity="0.32"/><rect x="535" y="873.63" width="19.2" height="0.6" fill="#c0504a" opacity="0.23"/><rect x="589" y="771.46" width="29.2" height="1.0" fill="#fff" opacity="0.53"/><rect x="333.5" y="876.24" width="30.6" height="0.8" fill="#fff" opacity="0.57"/><rect x="227.9" y="703.45" width="74.2" height="1.0" fill="#fff" opacity="0.51"/><rect x="640" y="768.73" width="20" height="1.0" fill="#c0504a" opacity="0.24"/><rect x="333.5" y="793.57" width="59.1" height="0.8" fill="#fff" opacity="0.39"/><rect x="646.1" y="848.91" width="13.9" height="0.6" fill="#c0504a" opacity="0.32"/><rect x="419.2" y="815.91" width="23.9" height="0.6" fill="#c0504a" opacity="0.31"/><rect x="233.23" y="869.54" width="35.77" height="0.6" fill="#fff" opacity="0.36"/><rect x="269" y="795.94" width="33.1" height="0.8" fill="#fff" opacity="0.43"/><rect x="518.29" y="783.36" width="16.71" height="0.6" fill="#fff" opacity="0.65"/><rect x="640" y="775.35" width="12" height="0.6" fill="#c0504a" opacity="0.25"/><rect x="657.84" y="758.24" width="9.56" height="1.0" fill="#6a6ac2" opacity="0.26"/><rect x="302.1" y="758.31" width="90.5" height="1.0" fill="#fff" opacity="0.38"/><rect x="673.14" y="801.69" width="20.76" height="1.0" fill="#fff" opacity="0.42"/><rect x="667.4" y="809.49" width="26.5" height="0.6" fill="#6a6ac2" opacity="0.3"/><rect x="661.99" y="725.45" width="31.91" height="1.0" fill="#c0504a" opacity="0.29"/><rect x="571.8" y="877.09" width="32.2" height="1.0" fill="#fff" opacity="0.69"/><rect x="423.57" y="873.02" width="19.53" height="0.8" fill="#fff" opacity="0.49"/><rect x="630.8" y="851.5" width="21.2" height="1.0" fill="#c0504a" opacity="0.36"/><rect x="269" y="716.4" width="95.1" height="1.0" fill="#fff" opacity="0.36"/><rect x="364.1" y="690.3" width="55.1" height="0.6" fill="#c0504a" opacity="0.35"/><rect x="470.22" y="804.74" width="19.68" height="0.6" fill="#fff" opacity="0.46"/><rect x="333.5" y="816.13" width="30.6" height="0.6" fill="#c0504a" opacity="0.21"/><rect x="604" y="784.45" width="26.8" height="0.8" fill="#fff" opacity="0.47"/><rect x="589" y="824.48" width="41.8" height="0.6" fill="#c0504a" opacity="0.33"/><rect x="660" y="767.34" width="33.9" height="0.8" fill="#6a6ac2" opacity="0.45"/><rect x="652" y="886.78" width="8" height="0.8" fill="#c0504a" opacity="0.35"/><rect x="333.5" y="879.31" width="30.6" height="0.6" fill="#6a6ac2" opacity="0.31"/><rect x="535" y="747.75" width="54" height="0.8" fill="#fff" opacity="0.66"/><rect x="302.1" y="745.03" width="62" height="0.6" fill="#6a6ac2" opacity="0.25"/><rect x="186.8" y="842.11" width="115.3" height="0.6" fill="#fff" opacity="0.39"/><rect x="630.8" y="756.14" width="9.2" height="0.8" fill="#c0504a" opacity="0.28"/><rect x="469.5" y="718.08" width="43.3" height="1.0" fill="#fff" opacity="0.54"/><rect x="443.1" y="782.37" width="69.7" height="1.0" fill="#6a6ac2" opacity="0.3"/><rect x="269" y="846.16" width="95.1" height="0.6" fill="#fff" opacity="0.43"/><rect x="535" y="852.65" width="36.8" height="0.6" fill="#fff" opacity="0.67"/><rect x="512.8" y="868.51" width="59" height="0.6" fill="#c0504a" opacity="0.3"/><rect x="499.85" y="768.46" width="12.95" height="1.0" fill="#c0504a" opacity="0.31"/><rect x="623.05" y="735.88" width="7.75" height="0.6" fill="#fff" opacity="0.64"/><rect x="292.11" y="857.16" width="41.39" height="0.8" fill="#fff" opacity="0.52"/><rect x="632.79" y="695.79" width="19.21" height="0.8" fill="#fff" opacity="0.59"/><rect x="618.2" y="723.2" width="33.8" height="0.8" fill="#fff" opacity="0.64"/><rect x="535" y="746.7" width="19.2" height="0.6" fill="#6a6ac2" opacity="0.4"/><rect x="661.46" y="756.22" width="5.94" height="0.6" fill="#c0504a" opacity="0.39"/><rect x="186.8" y="820.45" width="115.3" height="0.6" fill="#c0504a" opacity="0.22"/><rect x="186.8" y="777.7" width="41.1" height="1.0" fill="#fff" opacity="0.57"/><rect x="489.9" y="841.37" width="64.3" height="0.8" fill="#fff" opacity="0.42"/><rect x="489.9" y="837.37" width="45.1" height="0.8" fill="#c0504a" opacity="0.33"/><rect x="540.97" y="775.25" width="13.23" height="0.6" fill="#fff" opacity="0.57"/><rect x="535" y="716.97" width="19.2" height="0.6" fill="#c0504a" opacity="0.17"/><rect x="302.1" y="684.76" width="90.5" height="0.8" fill="#fff" opacity="0.67"/><rect x="333.5" y="880.04" width="30.6" height="0.8" fill="#6a6ac2" opacity="0.32"/><rect x="640" y="878.83" width="12" height="0.6" fill="#c0504a" opacity="0.23"/><rect x="641.13" y="821.83" width="10.87" height="1.0" fill="#fff" opacity="0.5"/><rect x="604" y="760.13" width="26.8" height="0.6" fill="#6a6ac2" opacity="0.38"/><rect x="618.2" y="733.12" width="21.8" height="0.6" fill="#fff" opacity="0.53"/><rect x="392.6" y="803.04" width="26.6" height="0.6" fill="#fff" opacity="0.58"/><rect x="589" y="707.45" width="41.8" height="0.8" fill="#fff" opacity="0.68"/><rect x="302.1" y="735.8" width="90.5" height="1.0" fill="#fff" opacity="0.67"/><rect x="293.05" y="796.92" width="40.45" height="0.6" fill="#6a6ac2" opacity="0.3"/><rect x="186.8" y="704.48" width="82.2" height="0.8" fill="#fff" opacity="0.62"/><rect x="364.1" y="859.05" width="28.5" height="1.0" fill="#c0504a" opacity="0.35"/><rect x="660" y="707.88" width="33.9" height="0.6" fill="#c0504a" opacity="0.34"/><rect x="575.12" y="721.26" width="13.88" height="1.0" fill="#c0504a" opacity="0.19"/><rect x="437.98" y="706.4" width="29.12" height="0.8" fill="#c0504a" opacity="0.35"/><rect x="640" y="887.12" width="12" height="1.0" fill="#c0504a" opacity="0.31"/><rect x="554.2" y="800.99" width="34.8" height="1.0" fill="#6a6ac2" opacity="0.45"/><rect x="554.2" y="766.99" width="17.6" height="1.0" fill="#6a6ac2" opacity="0.36"/><rect x="554.68" y="791.36" width="17.12" height="1.0" fill="#c0504a" opacity="0.38"/><rect x="489.9" y="759.89" width="45.1" height="0.8" fill="#6a6ac2" opacity="0.27"/><rect x="535" y="730.6" width="19.2" height="1.0" fill="#fff" opacity="0.67"/><rect x="535" y="744.57" width="19.2" height="1.0" fill="#6a6ac2" opacity="0.42"/><rect x="618.2" y="758.2" width="33.8" height="0.8" fill="#fff" opacity="0.58"/><rect x="269" y="801.43" width="33.1" height="1.0" fill="#fff" opacity="0.66"/><rect x="199.1" y="885.3" width="69.9" height="0.8" fill="#fff" opacity="0.37"/><rect x="540.62" y="855.71" width="13.58" height="0.8" fill="#fff" opacity="0.36"/><rect x="589" y="744.9" width="15" height="0.6" fill="#6a6ac2" opacity="0.34"/><rect x="678.5" y="721.95" width="15.4" height="0.6" fill="#fff" opacity="0.52"/><rect x="667.4" y="816.4" width="26.5" height="0.6" fill="#fff" opacity="0.68"/><rect x="467.1" y="819.62" width="45.7" height="0.6" fill="#fff" opacity="0.5"/><rect x="576.98" y="750.82" width="41.22" height="0.6" fill="#fff" opacity="0.6"/><rect x="419.2" y="736.41" width="47.9" height="0.6" fill="#fff" opacity="0.58"/><rect x="419.2" y="806.48" width="47.9" height="0.6" fill="#fff" opacity="0.43"/><rect x="269" y="817.4" width="95.1" height="1.0" fill="#c0504a" opacity="0.28"/><rect x="186.8" y="875.78" width="82.2" height="0.6" fill="#c0504a" opacity="0.29"/><rect x="402.36" y="739.95" width="16.84" height="0.6" fill="#fff" opacity="0.63"/><rect x="227.9" y="893.32" width="105.6" height="0.8" fill="#c0504a" opacity="0.15"/><rect x="284.59" y="690.85" width="48.91" height="1.0" fill="#fff" opacity="0.45"/><rect x="604" y="827.07" width="14.2" height="0.8" fill="#6a6ac2" opacity="0.23"/><rect x="571.8" y="729.08" width="32.2" height="0.8" fill="#6a6ac2" opacity="0.27"/><rect x="633.76" y="796.49" width="26.24" height="0.8" fill="#6a6ac2" opacity="0.22"/><rect x="364.59" y="868.25" width="54.61" height="0.8" fill="#c0504a" opacity="0.26"/><rect x="190.46" y="835.56" width="37.44" height="1.0" fill="#c0504a" opacity="0.29"/><rect x="334.15" y="729.65" width="29.95" height="1.0" fill="#fff" opacity="0.57"/><rect x="642.78" y="848.13" width="17.22" height="0.6" fill="#fff" opacity="0.44"/><rect x="666.96" y="786.17" width="26.94" height="0.6" fill="#fff" opacity="0.43"/><rect x="642.73" y="705.73" width="9.27" height="0.6" fill="#c0504a" opacity="0.16"/><rect x="607.95" y="767.17" width="10.25" height="0.6" fill="#c0504a" opacity="0.38"/><rect x="668.97" y="826.11" width="24.93" height="0.6" fill="#6a6ac2" opacity="0.33"/><rect x="533.11" y="881.25" width="21.09" height="0.8" fill="#c0504a" opacity="0.16"/><rect x="227.9" y="805.46" width="74.2" height="0.6" fill="#6a6ac2" opacity="0.47"/><rect x="542.5" y="778.68" width="11.7" height="0.6" fill="#fff" opacity="0.47"/><rect x="372.57" y="850.87" width="70.53" height="0.8" fill="#c0504a" opacity="0.23"/><rect x="652" y="784.71" width="8" height="0.6" fill="#fff" opacity="0.48"/><rect x="443.1" y="688" width="46.8" height="1.0" fill="#c0504a" opacity="0.28"/><rect x="538.47" y="734.97" width="15.73" height="0.8" fill="#fff" opacity="0.68"/><rect x="423.05" y="707.63" width="20.05" height="0.8" fill="#fff" opacity="0.38"/><rect x="608.32" y="748.7" width="9.88" height="1.0" fill="#c0504a" opacity="0.2"/><rect x="236.61" y="807.67" width="32.39" height="1.0" fill="#c0504a" opacity="0.18"/><rect x="489.9" y="797.36" width="64.3" height="0.8" fill="#fff" opacity="0.42"/><rect x="583.79" y="794.48" width="34.41" height="0.8" fill="#fff" opacity="0.39"/><rect x="392.93" y="753" width="26.27" height="1.0" fill="#c0504a" opacity="0.29"/><rect x="660" y="742.77" width="7.4" height="1.0" fill="#fff" opacity="0.59"/><rect x="512.8" y="704.35" width="22.2" height="0.6" fill="#fff" opacity="0.63"/><rect x="245.23" y="763.37" width="88.27" height="0.6" fill="#c0504a" opacity="0.22"/><rect x="392.6" y="879.73" width="74.5" height="1.0" fill="#fff" opacity="0.6"/><rect x="489.9" y="698.01" width="64.3" height="1.0" fill="#c0504a" opacity="0.21"/><rect x="239.24" y="745.05" width="62.86" height="0.8" fill="#6a6ac2" opacity="0.28"/><rect x="630.8" y="785.88" width="21.2" height="0.6" fill="#fff" opacity="0.44"/><rect x="489.9" y="685.42" width="45.1" height="0.6" fill="#fff" opacity="0.58"/><rect x="535" y="817.92" width="36.8" height="0.6" fill="#fff" opacity="0.55"/><rect x="652" y="846.11" width="8" height="0.8" fill="#c0504a" opacity="0.25"/><rect x="592.9" y="692.62" width="25.3" height="1.0" fill="#fff" opacity="0.4"/><rect x="589" y="737.26" width="29.2" height="0.8" fill="#fff" opacity="0.56"/><rect x="660" y="727.58" width="7.4" height="0.6" fill="#c0504a" opacity="0.25"/><rect x="652" y="797.11" width="8" height="0.8" fill="#c0504a" opacity="0.36"/><rect x="313.34" y="735.35" width="20.16" height="0.6" fill="#c0504a" opacity="0.32"/><rect x="364.1" y="857.66" width="55.1" height="0.8" fill="#c0504a" opacity="0.29"/><rect x="520.15" y="768.25" width="51.65" height="1.0" fill="#fff" opacity="0.41"/><rect x="269" y="838.7" width="33.1" height="0.8" fill="#6a6ac2" opacity="0.29"/><rect x="670.54" y="789.55" width="23.36" height="0.8" fill="#c0504a" opacity="0.27"/><rect x="615.43" y="733.13" width="24.57" height="0.6" fill="#fff" opacity="0.59"/><rect x="392.6" y="750.58" width="26.6" height="1.0" fill="#c0504a" opacity="0.33"/><rect x="447.62" y="839.3" width="19.48" height="0.6" fill="#c0504a" opacity="0.21"/><rect x="591.03" y="890.28" width="12.97" height="0.8" fill="#fff" opacity="0.58"/><rect x="348.76" y="881.46" width="15.34" height="0.8" fill="#6a6ac2" opacity="0.26"/><rect x="303.3" y="837.33" width="89.3" height="0.8" fill="#c0504a" opacity="0.27"/><rect x="583.42" y="692.41" width="20.58" height="1.0" fill="#c0504a" opacity="0.19"/><rect x="667.4" y="762.69" width="26.5" height="0.6" fill="#6a6ac2" opacity="0.24"/><rect x="618.2" y="859.73" width="21.8" height="0.6" fill="#c0504a" opacity="0.19"/><rect x="632.64" y="736.68" width="7.36" height="0.6" fill="#fff" opacity="0.38"/><rect x="443.19" y="757.56" width="23.91" height="0.6" fill="#6a6ac2" opacity="0.4"/><rect x="589" y="717.54" width="15" height="0.8" fill="#fff" opacity="0.65"/><rect x="512.8" y="684.71" width="59" height="1.0" fill="#fff" opacity="0.57"/><rect x="392.6" y="732.81" width="50.5" height="1.0" fill="#6a6ac2" opacity="0.33"/><rect x="186.8" y="687.96" width="41.1" height="0.6" fill="#c0504a" opacity="0.22"/><rect x="467.1" y="842.2" width="22.8" height="0.8" fill="#fff" opacity="0.42"/><rect x="604" y="680.11" width="26.8" height="0.8" fill="#6a6ac2" opacity="0.42"/><rect x="618.2" y="744.93" width="12.6" height="0.8" fill="#c0504a" opacity="0.36"/><rect x="640.84" y="732.38" width="11.16" height="1.0" fill="#fff" opacity="0.6"/><rect x="521.04" y="821.12" width="50.76" height="0.6" fill="#6a6ac2" opacity="0.3"/><rect x="402.48" y="735.47" width="16.72" height="0.6" fill="#c0504a" opacity="0.32"/><rect x="336.29" y="753.55" width="27.81" height="0.6" fill="#fff" opacity="0.49"/><rect x="491.9" y="765.75" width="20.9" height="1.0" fill="#fff" opacity="0.56"/><rect x="554.2" y="893.27" width="49.8" height="1.0" fill="#fff" opacity="0.49"/><rect x="443.1" y="871.5" width="24" height="0.6" fill="#6a6ac2" opacity="0.3"/><rect x="608.51" y="847.47" width="9.69" height="0.6" fill="#fff" opacity="0.58"/><rect x="512.8" y="812.27" width="59" height="1.0" fill="#c0504a" opacity="0.28"/><rect x="302.1" y="879.59" width="90.5" height="1.0" fill="#c0504a" opacity="0.36"/><rect x="640" y="727.91" width="12" height="0.8" fill="#fff" opacity="0.57"/><rect x="227.9" y="739.74" width="41.1" height="0.8" fill="#fff" opacity="0.51"/><rect x="489.9" y="838.8" width="22.9" height="0.6" fill="#6a6ac2" opacity="0.32"/><rect x="595.3" y="842.05" width="8.7" height="0.6" fill="#c0504a" opacity="0.38"/><rect x="604" y="851.83" width="26.8" height="1.0" fill="#fff" opacity="0.65"/><rect x="604" y="752.45" width="26.8" height="0.6" fill="#c0504a" opacity="0.37"/><rect x="654.22" y="784.46" width="5.78" height="0.6" fill="#6a6ac2" opacity="0.35"/><rect x="589" y="693.45" width="15" height="0.6" fill="#c0504a" opacity="0.38"/><rect x="377.34" y="854.89" width="15.26" height="0.8" fill="#6a6ac2" opacity="0.27"/><rect x="391.03" y="703.33" width="52.07" height="0.6" fill="#c0504a" opacity="0.27"/><rect x="392.6" y="893.35" width="50.5" height="1.0" fill="#c0504a" opacity="0.2"/><rect x="535" y="894.78" width="19.2" height="0.8" fill="#c0504a" opacity="0.36"/><rect x="394.3" y="821.4" width="24.9" height="0.6" fill="#c0504a" opacity="0.27"/><rect x="443.1" y="738.44" width="46.8" height="0.6" fill="#fff" opacity="0.42"/><rect x="667.4" y="828.69" width="26.5" height="0.6" fill="#6a6ac2" opacity="0.26"/><rect x="554.2" y="815.5" width="34.8" height="1.0" fill="#c0504a" opacity="0.26"/><rect x="302.1" y="704.68" width="62" height="0.6" fill="#c0504a" opacity="0.27"/><rect x="186.8" y="681.5" width="507.1" height="0.8" fill="#fff" opacity="0.55"/><rect x="186.8" y="683" width="507.1" height="0.8" fill="#fff" opacity="0.55"/><rect x="186.8" y="759.5" width="507.1" height="0.8" fill="#fff" opacity="0.55"/><rect x="186.8" y="774" width="507.1" height="0.8" fill="#fff" opacity="0.55"/><rect x="186.8" y="776.2" width="507.1" height="0.8" fill="#fff" opacity="0.55"/><rect x="186.8" y="748" width="507.1" height="0.8" fill="#fff" opacity="0.55"/></g>
<path d="M227.9 677.2V897M269 677.2V897M302.1 677.2V897M333.5 677.2V897M364.1 677.2V897M392.6 677.2V897M419.2 677.2V897M443.1 677.2V897M467.1 677.2V897M489.9 677.2V897M512.8 677.2V897M535 677.2V897M554.2 677.2V897M571.8 677.2V897M589 677.2V897M604 677.2V897M618.2 677.2V897M630.8 677.2V897M640 677.2V897M652 677.2V897M660 677.2V897M667.4 677.2V897" stroke="#1a1a1a" stroke-width="0.9" stroke-dasharray="4.2 2.6" fill="none"/>
<g shape-rendering="crispEdges"><rect x="693.9" y="677.2" width="43.8" height="7" fill="#b98fc9"/><rect x="693.9" y="684.2" width="43.8" height="3.7" fill="#ef7aa3"/><rect x="693.9" y="688.9" width="43.8" height="7.7" fill="#3db56a"/><rect x="693.9" y="696.6" width="43.8" height="8.9" fill="#4cb7df"/><rect x="693.9" y="705.5" width="43.8" height="38" fill="#c9a92b"/><rect x="693.9" y="743.5" width="43.8" height="36.8" fill="#b98fc9"/><rect x="693.9" y="780.3" width="43.8" height="2.3" fill="#ef7aa3"/><rect x="693.9" y="782.6" width="43.8" height="11.3" fill="#3db56a"/><rect x="693.9" y="793.9" width="43.8" height="5.4" fill="#4cb7df"/><rect x="693.9" y="799.3" width="43.8" height="40.9" fill="#c9a92b"/><rect x="693.9" y="840.2" width="43.8" height="9.9" fill="#3db56a"/><rect x="693.9" y="850.1" width="43.8" height="1.7" fill="#7fc6b5"/><rect x="693.9" y="851.8" width="43.8" height="25.7" fill="#c9a92b"/><rect x="693.9" y="879.4" width="43.8" height="2.8" fill="#ef7aa3"/><rect x="693.9" y="882.2" width="43.8" height="3.5" fill="#3db56a"/><rect x="693.9" y="885.7" width="43.8" height="11.3" fill="#c9a92b"/><rect x="737.7" y="677.2" width="42.9" height="66.3" fill="#3d7fbd"/><rect x="737.7" y="743.5" width="42.9" height="96.7" fill="#de2a27"/><rect x="737.7" y="840.2" width="42.9" height="37.3" fill="#47ad47"/><rect x="737.7" y="877.5" width="42.9" height="19.5" fill="#9a4fa6"/></g>
<line x1="186.8" y1="743.5" x2="780.6" y2="743.5" stroke="#222" stroke-width="1.1"/><line x1="186.8" y1="840.2" x2="780.6" y2="840.2" stroke="#222" stroke-width="1.1"/><line x1="186.8" y1="877.5" x2="780.6" y2="877.5" stroke="#222" stroke-width="1.1"/><line x1="186.8" y1="897.2" x2="693.9" y2="897.2" stroke="#999" stroke-width="0.8"/>
<text x="758.6" y="716.2" font-size="13" text-anchor="middle" fill="#111">2</text>
<text x="758.6" y="797.2" font-size="13" text-anchor="middle" fill="#111">1</text>
<text x="758.6" y="862.8" font-size="13" text-anchor="middle" fill="#111">3</text>
<text x="758.6" y="892" font-size="13" text-anchor="middle" fill="#111">4</text>
<text x="207.5" y="912.4" font-size="12" text-anchor="middle">1</text>
<text x="247" y="912.4" font-size="12" text-anchor="middle">2</text>
<text x="285.3" y="912.4" font-size="12" text-anchor="middle">3</text>
<text x="315" y="912.4" font-size="12" text-anchor="middle">4</text>
<text x="348" y="912.4" font-size="12" text-anchor="middle">5</text>
<text x="378.8" y="912.4" font-size="12" text-anchor="middle">6</text>
<text x="403" y="912.4" font-size="12" text-anchor="middle">7</text>
<text x="428.3" y="912.4" font-size="12" text-anchor="middle">8</text>
<text x="453.5" y="912.4" font-size="12" text-anchor="middle">9</text>
<text x="477.3" y="912.4" font-size="12" text-anchor="middle">10</text>
<text x="499.8" y="912.4" font-size="12" text-anchor="middle">11</text>
<text x="523.4" y="912.4" font-size="12" text-anchor="middle">12</text>
<text x="561.3" y="912.4" font-size="12" text-anchor="middle">14</text>
<text x="594.2" y="912.4" font-size="12" text-anchor="middle">16</text>
<text x="622.6" y="912.4" font-size="12" text-anchor="middle">18</text>
<text x="642.3" y="912.4" font-size="12" text-anchor="middle">20</text>
<text x="679.2" y="912.4" font-size="12" text-anchor="middle">X</text>
<defs><linearGradient id="cb" x1="0" x2="1" y1="0" y2="0"><stop offset="0" stop-color="#8f1d1d"/><stop offset="0.5" stop-color="#ffffff"/><stop offset="1" stop-color="#3b3b9c"/></linearGradient></defs><rect x="546.2" y="923.2" width="135.1" height="8.8" fill="url(#cb)"/>
<text x="545" y="944.8" font-size="13" text-anchor="middle">–2</text>
<text x="612.4" y="944.8" font-size="13" text-anchor="middle">0</text>
<text x="680.4" y="944.8" font-size="13" text-anchor="middle">2</text>
<text x="612.4" y="967.8" font-size="13" text-anchor="middle">log<tspan font-size="8.5" dy="3">2</tspan><tspan dy="-3">(CN ratio)</tspan></text>
<text transform="translate(694.2 925.6) rotate(45)" font-size="13">Sample</text>
<text transform="translate(739 925.4) rotate(45)" font-size="13">Cluster</text>
</g>
</svg>
</body></html>
